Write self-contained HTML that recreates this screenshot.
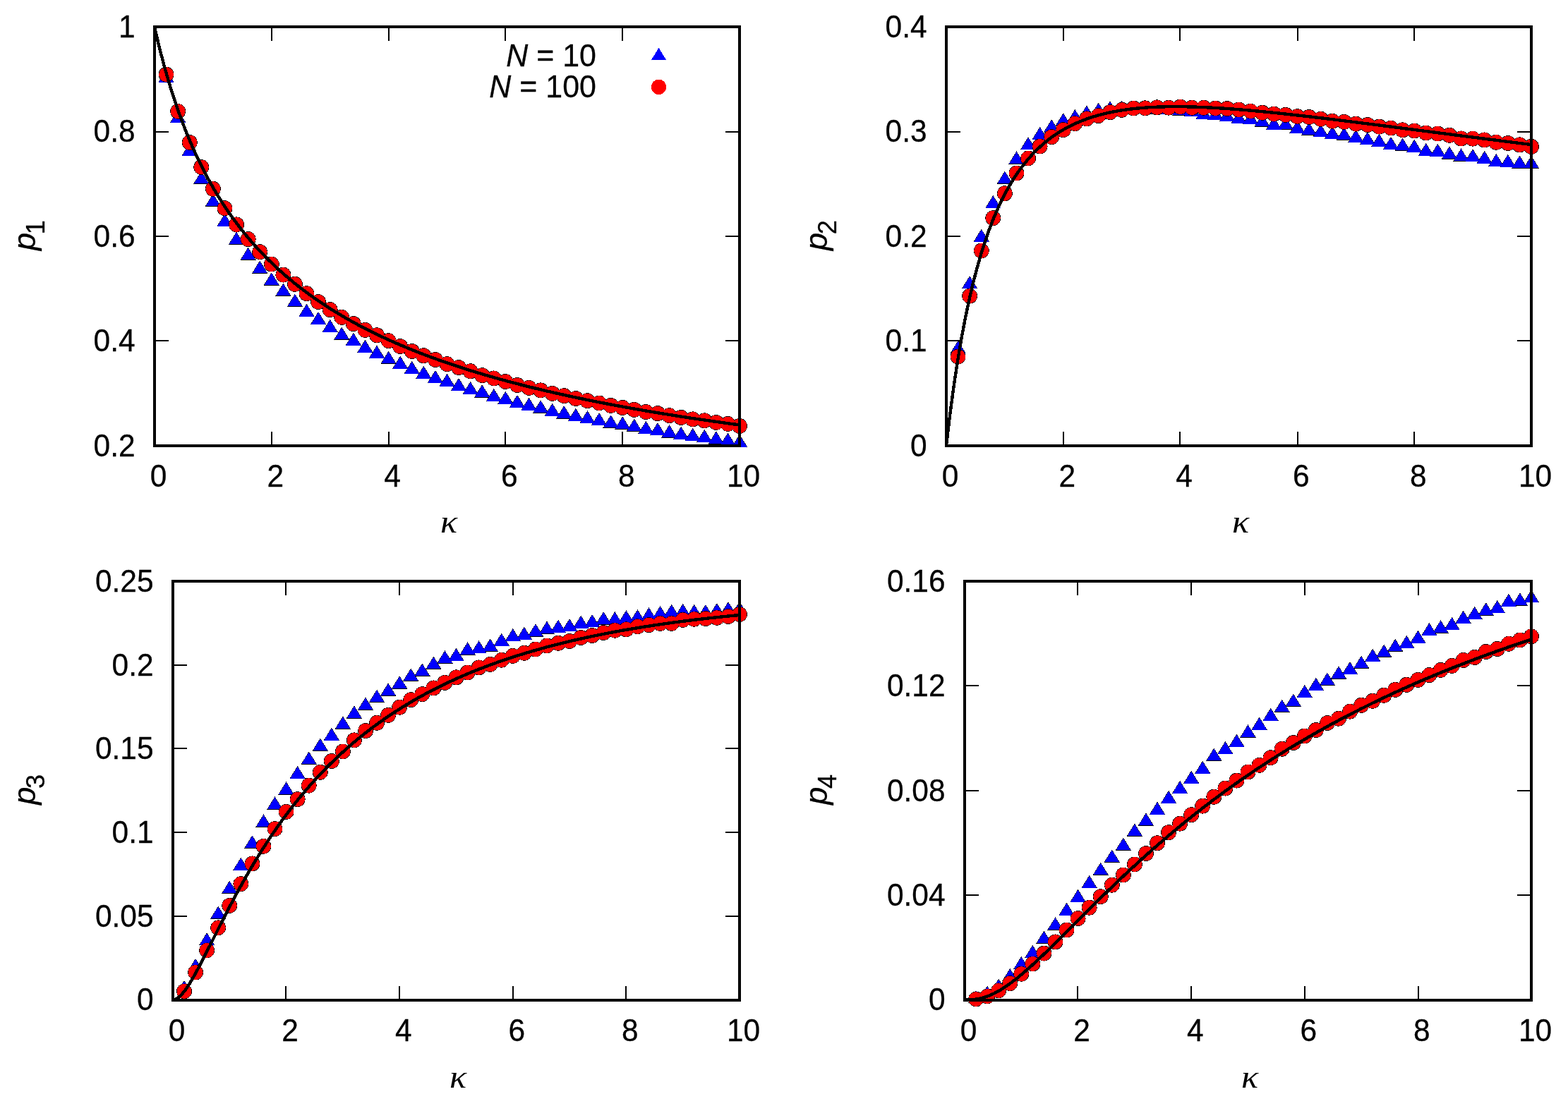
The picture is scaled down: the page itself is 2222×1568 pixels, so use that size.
<!DOCTYPE html>
<html lang="en"><head><meta charset="utf-8"><title>p_n versus kappa</title>
<style>
html,body{margin:0;padding:0;background:#fff;}
body{width:2222px;height:1568px;overflow:hidden;}
svg{display:block;}
text{font-family:"Liberation Sans",sans-serif;font-size:45.2px;fill:#000;stroke:#000;stroke-width:.3px;}
.it{font-style:italic;}
.sub{font-size:36.16px;}
.k{font-family:"Liberation Serif","DejaVu Serif",serif;font-style:italic;font-size:46.5px;stroke:none;}
.tri{fill:#0000ff;}.cir{fill:#ff0000;}
.ol{fill:none;stroke:#000;stroke-width:1;stroke-linejoin:miter;}
.fr{fill:none;stroke:#000;stroke-width:4.0;stroke-linejoin:miter;}
.tk{fill:#000;stroke:none;}
.ln{fill:none;stroke:#000;stroke-width:4.4;stroke-linejoin:round;stroke-linecap:butt;}
</style></head><body>
<svg width="2222" height="1568" viewBox="0 0 2222 1568">
<rect width="2222" height="1568" fill="#fff"/>
<g class="panel" id="panel1">
<g shape-rendering="crispEdges">
<path class="ol" d="M225.15 116.64L235.58 99.74L246.01 116.64ZM241.73 173.5L252.16 156.6L262.59 173.5ZM258.31 220.6L268.74 203.7L279.17 220.6ZM274.89 260.46L285.32 243.56L295.75 260.46ZM291.47 292.43L301.9 275.53L312.33 292.43ZM308.05 320.77L318.48 303.87L328.91 320.77ZM324.63 346.46L335.06 329.56L345.49 346.46ZM341.21 368.47L351.64 351.57L362.07 368.47ZM357.79 387.34L368.22 370.44L378.65 387.34ZM374.37 404.25L384.8 387.35L395.23 404.25ZM390.95 419.43L401.38 402.53L411.81 419.43ZM407.53 434.49L417.96 417.59L428.39 434.49ZM424.11 448.57L434.54 431.68L444.97 448.57ZM440.69 459.75L451.12 442.85L461.55 459.75ZM457.27 470.77L467.7 453.87L478.13 470.77ZM473.85 481.48L484.28 464.58L494.71 481.48ZM490.43 489.59L500.86 472.7L511.29 489.59ZM507.01 499.54L517.44 482.64L527.87 499.54ZM523.59 507.5L534.02 490.6L544.45 507.5ZM540.17 515.46L550.6 498.56L561.03 515.46ZM556.75 522.5L567.18 505.6L577.61 522.5ZM573.33 529.7L583.76 512.8L594.19 529.7ZM589.91 536.58L600.34 519.69L610.77 536.58ZM606.49 542.71L616.92 525.81L627.35 542.71ZM623.07 547.61L633.5 530.71L643.93 547.61ZM639.65 553.73L650.08 536.83L660.51 553.73ZM656.23 558.78L666.66 541.88L677.09 558.78ZM672.81 563.06L683.24 546.17L693.67 563.06ZM689.39 568.73L699.82 551.83L710.25 568.73ZM705.97 572.55L716.4 555.66L726.83 572.55ZM722.55 577.61L732.98 560.71L743.41 577.61ZM739.13 581.54L749.56 564.64L759.99 581.54ZM755.71 585.16L766.14 568.26L776.57 585.16ZM772.29 589.76L782.72 572.86L793.15 589.76ZM788.87 593.05L799.3 576.16L809.73 593.05ZM805.45 596.67L815.88 579.77L826.31 596.67ZM822.03 599.96L832.46 583.07L842.89 599.96ZM838.61 602.93L849.04 586.03L859.47 602.93ZM855.19 606.22L865.62 589.32L876.05 606.22ZM871.77 608.19L882.2 591.29L892.63 608.19ZM888.35 611.48L898.78 594.58L909.21 611.48ZM904.93 614.77L915.36 597.87L925.79 614.77ZM921.51 616.91L931.94 600.01L942.37 616.91ZM938.09 620.04L948.52 603.14L958.95 620.04ZM954.67 622.67L965.1 605.77L975.53 622.67ZM971.25 624.65L981.68 607.75L992.11 624.65ZM987.83 626.62L998.26 609.72L1008.69 626.62ZM1004.41 629.2L1014.84 612.3L1025.27 629.2ZM1020.99 631.41L1031.42 614.51L1041.85 631.41ZM1037.57 633.56L1048 616.66L1058.43 633.56Z"/>
<path class="tri" d="M225.15 116.64L235.58 99.74L246.01 116.64ZM241.73 173.5L252.16 156.6L262.59 173.5ZM258.31 220.6L268.74 203.7L279.17 220.6ZM274.89 260.46L285.32 243.56L295.75 260.46ZM291.47 292.43L301.9 275.53L312.33 292.43ZM308.05 320.77L318.48 303.87L328.91 320.77ZM324.63 346.46L335.06 329.56L345.49 346.46ZM341.21 368.47L351.64 351.57L362.07 368.47ZM357.79 387.34L368.22 370.44L378.65 387.34ZM374.37 404.25L384.8 387.35L395.23 404.25ZM390.95 419.43L401.38 402.53L411.81 419.43ZM407.53 434.49L417.96 417.59L428.39 434.49ZM424.11 448.57L434.54 431.68L444.97 448.57ZM440.69 459.75L451.12 442.85L461.55 459.75ZM457.27 470.77L467.7 453.87L478.13 470.77ZM473.85 481.48L484.28 464.58L494.71 481.48ZM490.43 489.59L500.86 472.7L511.29 489.59ZM507.01 499.54L517.44 482.64L527.87 499.54ZM523.59 507.5L534.02 490.6L544.45 507.5ZM540.17 515.46L550.6 498.56L561.03 515.46ZM556.75 522.5L567.18 505.6L577.61 522.5ZM573.33 529.7L583.76 512.8L594.19 529.7ZM589.91 536.58L600.34 519.69L610.77 536.58ZM606.49 542.71L616.92 525.81L627.35 542.71ZM623.07 547.61L633.5 530.71L643.93 547.61ZM639.65 553.73L650.08 536.83L660.51 553.73ZM656.23 558.78L666.66 541.88L677.09 558.78ZM672.81 563.06L683.24 546.17L693.67 563.06ZM689.39 568.73L699.82 551.83L710.25 568.73ZM705.97 572.55L716.4 555.66L726.83 572.55ZM722.55 577.61L732.98 560.71L743.41 577.61ZM739.13 581.54L749.56 564.64L759.99 581.54ZM755.71 585.16L766.14 568.26L776.57 585.16ZM772.29 589.76L782.72 572.86L793.15 589.76ZM788.87 593.05L799.3 576.16L809.73 593.05ZM805.45 596.67L815.88 579.77L826.31 596.67ZM822.03 599.96L832.46 583.07L842.89 599.96ZM838.61 602.93L849.04 586.03L859.47 602.93ZM855.19 606.22L865.62 589.32L876.05 606.22ZM871.77 608.19L882.2 591.29L892.63 608.19ZM888.35 611.48L898.78 594.58L909.21 611.48ZM904.93 614.77L915.36 597.87L925.79 614.77ZM921.51 616.91L931.94 600.01L942.37 616.91ZM938.09 620.04L948.52 603.14L958.95 620.04ZM954.67 622.67L965.1 605.77L975.53 622.67ZM971.25 624.65L981.68 607.75L992.11 624.65ZM987.83 626.62L998.26 609.72L1008.69 626.62ZM1004.41 629.2L1014.84 612.3L1025.27 629.2ZM1020.99 631.41L1031.42 614.51L1041.85 631.41ZM1037.57 633.56L1048 616.66L1058.43 633.56Z"/>
<path class="ol" d="M225.13 105.59a10.45 10.45 0 1 0 20.9 0a10.45 10.45 0 1 0 -20.9 0ZM241.71 157.89a10.45 10.45 0 1 0 20.9 0a10.45 10.45 0 1 0 -20.9 0ZM258.29 201.99a10.45 10.45 0 1 0 20.9 0a10.45 10.45 0 1 0 -20.9 0ZM274.87 236.97a10.45 10.45 0 1 0 20.9 0a10.45 10.45 0 1 0 -20.9 0ZM291.45 267.84a10.45 10.45 0 1 0 20.9 0a10.45 10.45 0 1 0 -20.9 0ZM308.03 295.25a10.45 10.45 0 1 0 20.9 0a10.45 10.45 0 1 0 -20.9 0ZM324.61 318.39a10.45 10.45 0 1 0 20.9 0a10.45 10.45 0 1 0 -20.9 0ZM341.19 339.05a10.45 10.45 0 1 0 20.9 0a10.45 10.45 0 1 0 -20.9 0ZM357.77 357.21a10.45 10.45 0 1 0 20.9 0a10.45 10.45 0 1 0 -20.9 0ZM374.35 374.55a10.45 10.45 0 1 0 20.9 0a10.45 10.45 0 1 0 -20.9 0ZM390.93 389.62a10.45 10.45 0 1 0 20.9 0a10.45 10.45 0 1 0 -20.9 0ZM407.51 402.85a10.45 10.45 0 1 0 20.9 0a10.45 10.45 0 1 0 -20.9 0ZM424.09 416.18a10.45 10.45 0 1 0 20.9 0a10.45 10.45 0 1 0 -20.9 0ZM440.67 428.05a10.45 10.45 0 1 0 20.9 0a10.45 10.45 0 1 0 -20.9 0ZM457.25 439.07a10.45 10.45 0 1 0 20.9 0a10.45 10.45 0 1 0 -20.9 0ZM473.83 449.78a10.45 10.45 0 1 0 20.9 0a10.45 10.45 0 1 0 -20.9 0ZM490.41 459.12a10.45 10.45 0 1 0 20.9 0a10.45 10.45 0 1 0 -20.9 0ZM506.99 467.84a10.45 10.45 0 1 0 20.9 0a10.45 10.45 0 1 0 -20.9 0ZM523.57 475.19a10.45 10.45 0 1 0 20.9 0a10.45 10.45 0 1 0 -20.9 0ZM540.15 483.15a10.45 10.45 0 1 0 20.9 0a10.45 10.45 0 1 0 -20.9 0ZM556.73 491.11a10.45 10.45 0 1 0 20.9 0a10.45 10.45 0 1 0 -20.9 0ZM573.31 498a10.45 10.45 0 1 0 20.9 0a10.45 10.45 0 1 0 -20.9 0ZM589.89 504.27a10.45 10.45 0 1 0 20.9 0a10.45 10.45 0 1 0 -20.9 0ZM606.47 509.93a10.45 10.45 0 1 0 20.9 0a10.45 10.45 0 1 0 -20.9 0ZM623.05 516.06a10.45 10.45 0 1 0 20.9 0a10.45 10.45 0 1 0 -20.9 0ZM639.63 521.11a10.45 10.45 0 1 0 20.9 0a10.45 10.45 0 1 0 -20.9 0ZM656.21 526.31a10.45 10.45 0 1 0 20.9 0a10.45 10.45 0 1 0 -20.9 0ZM672.79 532.13a10.45 10.45 0 1 0 20.9 0a10.45 10.45 0 1 0 -20.9 0ZM689.37 536.41a10.45 10.45 0 1 0 20.9 0a10.45 10.45 0 1 0 -20.9 0ZM705.95 541.01a10.45 10.45 0 1 0 20.9 0a10.45 10.45 0 1 0 -20.9 0ZM722.53 545.9a10.45 10.45 0 1 0 20.9 0a10.45 10.45 0 1 0 -20.9 0ZM739.11 549.82a10.45 10.45 0 1 0 20.9 0a10.45 10.45 0 1 0 -20.9 0ZM755.69 553.39a10.45 10.45 0 1 0 20.9 0a10.45 10.45 0 1 0 -20.9 0ZM772.27 557.83a10.45 10.45 0 1 0 20.9 0a10.45 10.45 0 1 0 -20.9 0ZM788.85 561.12a10.45 10.45 0 1 0 20.9 0a10.45 10.45 0 1 0 -20.9 0ZM805.43 565.07a10.45 10.45 0 1 0 20.9 0a10.45 10.45 0 1 0 -20.9 0ZM822.01 568.2a10.45 10.45 0 1 0 20.9 0a10.45 10.45 0 1 0 -20.9 0ZM838.59 571.49a10.45 10.45 0 1 0 20.9 0a10.45 10.45 0 1 0 -20.9 0ZM855.17 574.94a10.45 10.45 0 1 0 20.9 0a10.45 10.45 0 1 0 -20.9 0ZM871.75 577.91a10.45 10.45 0 1 0 20.9 0a10.45 10.45 0 1 0 -20.9 0ZM888.33 580.87a10.45 10.45 0 1 0 20.9 0a10.45 10.45 0 1 0 -20.9 0ZM904.91 583.99a10.45 10.45 0 1 0 20.9 0a10.45 10.45 0 1 0 -20.9 0ZM921.49 586.13a10.45 10.45 0 1 0 20.9 0a10.45 10.45 0 1 0 -20.9 0ZM938.07 589.1a10.45 10.45 0 1 0 20.9 0a10.45 10.45 0 1 0 -20.9 0ZM954.65 591.89a10.45 10.45 0 1 0 20.9 0a10.45 10.45 0 1 0 -20.9 0ZM971.23 594.36a10.45 10.45 0 1 0 20.9 0a10.45 10.45 0 1 0 -20.9 0ZM987.81 596.34a10.45 10.45 0 1 0 20.9 0a10.45 10.45 0 1 0 -20.9 0ZM1004.39 598.97a10.45 10.45 0 1 0 20.9 0a10.45 10.45 0 1 0 -20.9 0ZM1020.97 600.94a10.45 10.45 0 1 0 20.9 0a10.45 10.45 0 1 0 -20.9 0ZM1037.55 603.91a10.45 10.45 0 1 0 20.9 0a10.45 10.45 0 1 0 -20.9 0Z"/>
<path class="cir" d="M225.13 105.59a10.45 10.45 0 1 0 20.9 0a10.45 10.45 0 1 0 -20.9 0ZM241.71 157.89a10.45 10.45 0 1 0 20.9 0a10.45 10.45 0 1 0 -20.9 0ZM258.29 201.99a10.45 10.45 0 1 0 20.9 0a10.45 10.45 0 1 0 -20.9 0ZM274.87 236.97a10.45 10.45 0 1 0 20.9 0a10.45 10.45 0 1 0 -20.9 0ZM291.45 267.84a10.45 10.45 0 1 0 20.9 0a10.45 10.45 0 1 0 -20.9 0ZM308.03 295.25a10.45 10.45 0 1 0 20.9 0a10.45 10.45 0 1 0 -20.9 0ZM324.61 318.39a10.45 10.45 0 1 0 20.9 0a10.45 10.45 0 1 0 -20.9 0ZM341.19 339.05a10.45 10.45 0 1 0 20.9 0a10.45 10.45 0 1 0 -20.9 0ZM357.77 357.21a10.45 10.45 0 1 0 20.9 0a10.45 10.45 0 1 0 -20.9 0ZM374.35 374.55a10.45 10.45 0 1 0 20.9 0a10.45 10.45 0 1 0 -20.9 0ZM390.93 389.62a10.45 10.45 0 1 0 20.9 0a10.45 10.45 0 1 0 -20.9 0ZM407.51 402.85a10.45 10.45 0 1 0 20.9 0a10.45 10.45 0 1 0 -20.9 0ZM424.09 416.18a10.45 10.45 0 1 0 20.9 0a10.45 10.45 0 1 0 -20.9 0ZM440.67 428.05a10.45 10.45 0 1 0 20.9 0a10.45 10.45 0 1 0 -20.9 0ZM457.25 439.07a10.45 10.45 0 1 0 20.9 0a10.45 10.45 0 1 0 -20.9 0ZM473.83 449.78a10.45 10.45 0 1 0 20.9 0a10.45 10.45 0 1 0 -20.9 0ZM490.41 459.12a10.45 10.45 0 1 0 20.9 0a10.45 10.45 0 1 0 -20.9 0ZM506.99 467.84a10.45 10.45 0 1 0 20.9 0a10.45 10.45 0 1 0 -20.9 0ZM523.57 475.19a10.45 10.45 0 1 0 20.9 0a10.45 10.45 0 1 0 -20.9 0ZM540.15 483.15a10.45 10.45 0 1 0 20.9 0a10.45 10.45 0 1 0 -20.9 0ZM556.73 491.11a10.45 10.45 0 1 0 20.9 0a10.45 10.45 0 1 0 -20.9 0ZM573.31 498a10.45 10.45 0 1 0 20.9 0a10.45 10.45 0 1 0 -20.9 0ZM589.89 504.27a10.45 10.45 0 1 0 20.9 0a10.45 10.45 0 1 0 -20.9 0ZM606.47 509.93a10.45 10.45 0 1 0 20.9 0a10.45 10.45 0 1 0 -20.9 0ZM623.05 516.06a10.45 10.45 0 1 0 20.9 0a10.45 10.45 0 1 0 -20.9 0ZM639.63 521.11a10.45 10.45 0 1 0 20.9 0a10.45 10.45 0 1 0 -20.9 0ZM656.21 526.31a10.45 10.45 0 1 0 20.9 0a10.45 10.45 0 1 0 -20.9 0ZM672.79 532.13a10.45 10.45 0 1 0 20.9 0a10.45 10.45 0 1 0 -20.9 0ZM689.37 536.41a10.45 10.45 0 1 0 20.9 0a10.45 10.45 0 1 0 -20.9 0ZM705.95 541.01a10.45 10.45 0 1 0 20.9 0a10.45 10.45 0 1 0 -20.9 0ZM722.53 545.9a10.45 10.45 0 1 0 20.9 0a10.45 10.45 0 1 0 -20.9 0ZM739.11 549.82a10.45 10.45 0 1 0 20.9 0a10.45 10.45 0 1 0 -20.9 0ZM755.69 553.39a10.45 10.45 0 1 0 20.9 0a10.45 10.45 0 1 0 -20.9 0ZM772.27 557.83a10.45 10.45 0 1 0 20.9 0a10.45 10.45 0 1 0 -20.9 0ZM788.85 561.12a10.45 10.45 0 1 0 20.9 0a10.45 10.45 0 1 0 -20.9 0ZM805.43 565.07a10.45 10.45 0 1 0 20.9 0a10.45 10.45 0 1 0 -20.9 0ZM822.01 568.2a10.45 10.45 0 1 0 20.9 0a10.45 10.45 0 1 0 -20.9 0ZM838.59 571.49a10.45 10.45 0 1 0 20.9 0a10.45 10.45 0 1 0 -20.9 0ZM855.17 574.94a10.45 10.45 0 1 0 20.9 0a10.45 10.45 0 1 0 -20.9 0ZM871.75 577.91a10.45 10.45 0 1 0 20.9 0a10.45 10.45 0 1 0 -20.9 0ZM888.33 580.87a10.45 10.45 0 1 0 20.9 0a10.45 10.45 0 1 0 -20.9 0ZM904.91 583.99a10.45 10.45 0 1 0 20.9 0a10.45 10.45 0 1 0 -20.9 0ZM921.49 586.13a10.45 10.45 0 1 0 20.9 0a10.45 10.45 0 1 0 -20.9 0ZM938.07 589.1a10.45 10.45 0 1 0 20.9 0a10.45 10.45 0 1 0 -20.9 0ZM954.65 591.89a10.45 10.45 0 1 0 20.9 0a10.45 10.45 0 1 0 -20.9 0ZM971.23 594.36a10.45 10.45 0 1 0 20.9 0a10.45 10.45 0 1 0 -20.9 0ZM987.81 596.34a10.45 10.45 0 1 0 20.9 0a10.45 10.45 0 1 0 -20.9 0ZM1004.39 598.97a10.45 10.45 0 1 0 20.9 0a10.45 10.45 0 1 0 -20.9 0ZM1020.97 600.94a10.45 10.45 0 1 0 20.9 0a10.45 10.45 0 1 0 -20.9 0ZM1037.55 603.91a10.45 10.45 0 1 0 20.9 0a10.45 10.45 0 1 0 -20.9 0Z"/>
<path class="ln" d="M219 38L221.07 47.13L223.15 55.97L225.22 64.53L227.29 72.82L229.36 80.87L231.44 88.68L233.51 96.26L235.58 103.63L237.65 110.8L239.72 117.76L241.8 124.55L243.87 131.15L245.94 137.58L248.01 143.85L250.09 149.96L252.16 155.92L254.23 161.74L256.31 167.42L258.38 172.97L260.45 178.38L262.52 183.68L264.6 188.86L266.67 193.92L268.74 198.87L270.81 203.72L272.88 208.46L274.96 213.11L277.03 217.66L279.1 222.11L281.18 226.48L283.25 230.76L285.32 234.96L287.39 239.08L289.47 243.12L291.54 247.08L293.61 250.97L295.68 254.79L297.75 258.54L299.83 262.22L301.9 265.84L303.97 269.39L306.05 272.88L308.12 276.32L310.19 279.69L312.26 283.01L314.33 286.27L316.41 289.48L318.48 292.64L320.55 295.75L322.62 298.81L324.7 301.82L326.77 304.78L328.84 307.7L330.92 310.57L332.99 313.4L335.06 316.19L337.13 318.94L339.2 321.64L341.28 324.31L343.35 326.94L345.42 329.53L347.5 332.08L349.57 334.6L351.64 337.08L353.71 339.53L355.78 341.95L357.86 344.33L359.93 346.68L362 349L364.07 351.29L366.15 353.55L368.22 355.78L370.29 357.98L372.37 360.16L374.44 362.3L376.51 364.42L378.58 366.51L380.65 368.58L382.73 370.62L384.8 372.64L386.87 374.63L388.94 376.6L391.02 378.55L393.09 380.47L395.16 382.37L397.24 384.25L399.31 386.1L401.38 387.94L403.45 389.75L405.52 391.54L407.6 393.32L409.67 395.07L411.74 396.8L413.81 398.52L415.89 400.22L417.96 401.89L420.03 403.55L422.11 405.2L424.18 406.82L426.25 408.43L428.32 410.02L430.39 411.59L432.47 413.15L434.54 414.69L436.61 416.22L438.69 417.73L440.76 419.23L442.83 420.71L444.9 422.17L446.98 423.63L449.05 425.06L451.12 426.49L453.19 427.9L455.26 429.29L457.34 430.67L459.41 432.04L461.48 433.4L463.56 434.74L465.63 436.07L467.7 437.39L469.77 438.7L471.84 439.99L473.92 441.28L475.99 442.55L478.06 443.81L480.13 445.05L482.21 446.29L484.28 447.52L486.35 448.73L488.43 449.93L490.5 451.13L492.57 452.31L494.64 453.48L496.72 454.65L498.79 455.8L500.86 456.94L502.93 458.08L505 459.2L507.08 460.32L509.15 461.42L511.22 462.52L513.29 463.6L515.37 464.68L517.44 465.75L519.51 466.81L521.59 467.86L523.66 468.91L525.73 469.94L527.8 470.97L529.88 471.99L531.95 473L534.02 474L536.09 475L538.16 475.98L540.24 476.96L542.31 477.93L544.38 478.9L546.46 479.86L548.53 480.81L550.6 481.75L552.67 482.68L554.75 483.61L556.82 484.53L558.89 485.45L560.96 486.36L563.04 487.26L565.11 488.15L567.18 489.04L569.25 489.92L571.33 490.8L573.4 491.67L575.47 492.53L577.54 493.39L579.62 494.24L581.69 495.08L583.76 495.92L585.83 496.75L587.9 497.58L589.98 498.4L592.05 499.22L594.12 500.03L596.19 500.83L598.27 501.63L600.34 502.42L602.41 503.21L604.49 503.99L606.56 504.77L608.63 505.54L610.7 506.31L612.77 507.07L614.85 507.83L616.92 508.58L618.99 509.33L621.06 510.07L623.14 510.81L625.21 511.54L627.28 512.27L629.36 512.99L631.43 513.71L633.5 514.42L635.57 515.13L637.64 515.84L639.72 516.54L641.79 517.23L643.86 517.93L645.94 518.61L648.01 519.3L650.08 519.98L652.15 520.65L654.23 521.32L656.3 521.99L658.37 522.65L660.44 523.31L662.51 523.96L664.59 524.61L666.66 525.26L668.73 525.9L670.81 526.54L672.88 527.18L674.95 527.81L677.02 528.43L679.1 529.06L681.17 529.68L683.24 530.29L685.31 530.91L687.38 531.52L689.46 532.12L691.53 532.73L693.6 533.32L695.67 533.92L697.75 534.51L699.82 535.1L701.89 535.69L703.96 536.27L706.04 536.85L708.11 537.42L710.18 538L712.25 538.56L714.33 539.13L716.4 539.69L718.47 540.25L720.54 540.81L722.62 541.36L724.69 541.91L726.76 542.46L728.84 543.01L730.91 543.55L732.98 544.09L735.05 544.62L737.12 545.16L739.2 545.69L741.27 546.21L743.34 546.74L745.41 547.26L747.49 547.78L749.56 548.3L751.63 548.81L753.71 549.32L755.78 549.83L757.85 550.34L759.92 550.84L762 551.34L764.07 551.84L766.14 552.33L768.21 552.83L770.29 553.32L772.36 553.8L774.43 554.29L776.5 554.77L778.58 555.25L780.65 555.73L782.72 556.21L784.79 556.68L786.87 557.15L788.94 557.62L791.01 558.09L793.08 558.55L795.15 559.01L797.23 559.47L799.3 559.93L801.37 560.39L803.44 560.84L805.52 561.29L807.59 561.74L809.66 562.18L811.74 562.63L813.81 563.07L815.88 563.51L817.95 563.95L820.02 564.39L822.1 564.82L824.17 565.25L826.24 565.68L828.31 566.11L830.39 566.53L832.46 566.96L834.53 567.38L836.61 567.8L838.68 568.22L840.75 568.63L842.82 569.05L844.89 569.46L846.97 569.87L849.04 570.28L851.11 570.69L853.19 571.09L855.26 571.49L857.33 571.89L859.4 572.29L861.48 572.69L863.55 573.09L865.62 573.48L867.69 573.87L869.76 574.26L871.84 574.65L873.91 575.04L875.98 575.42L878.06 575.81L880.13 576.19L882.2 576.57L884.27 576.95L886.35 577.33L888.42 577.7L890.49 578.07L892.56 578.45L894.63 578.82L896.71 579.19L898.78 579.55L900.85 579.92L902.92 580.28L905 580.65L907.07 581.01L909.14 581.37L911.21 581.73L913.29 582.08L915.36 582.44L917.43 582.79L919.5 583.14L921.58 583.49L923.65 583.84L925.72 584.19L927.8 584.54L929.87 584.88L931.94 585.23L934.01 585.57L936.09 585.91L938.16 586.25L940.23 586.59L942.3 586.92L944.38 587.26L946.45 587.59L948.52 587.92L950.59 588.26L952.66 588.59L954.74 588.91L956.81 589.24L958.88 589.57L960.95 589.89L963.03 590.21L965.1 590.54L967.17 590.86L969.25 591.18L971.32 591.5L973.39 591.81L975.46 592.13L977.54 592.44L979.61 592.76L981.68 593.07L983.75 593.38L985.83 593.69L987.9 594L989.97 594.3L992.04 594.61L994.12 594.92L996.19 595.22L998.26 595.52L1000.33 595.82L1002.4 596.12L1004.48 596.42L1006.55 596.72L1008.62 597.02L1010.7 597.31L1012.77 597.61L1014.84 597.9L1016.91 598.2L1018.99 598.49L1021.06 598.78L1023.13 599.07L1025.2 599.35L1027.28 599.64L1029.35 599.93L1031.42 600.21L1033.49 600.5L1035.57 600.78L1037.64 601.06L1039.71 601.34L1041.78 601.62L1043.86 601.9L1045.93 602.18L1048 602.46"/>
<path class="tk" d="M384 612h2v20h-2zM384 38h2v20h-2zM550 612h2v20h-2zM550 38h2v20h-2zM715 612h2v20h-2zM715 38h2v20h-2zM881 612h2v20h-2zM881 38h2v20h-2zM219 482h20v2h-20zM1028 482h20v2h-20zM219 334h20v2h-20zM1028 334h20v2h-20zM219 186h20v2h-20zM1028 186h20v2h-20z"/>
<rect class="fr" x="219" y="38" width="829" height="594"/>
</g>
<text transform="translate(224.5 690) scale(0.94 1)" text-anchor="middle">0</text>
<text transform="translate(390.3 690) scale(0.94 1)" text-anchor="middle">2</text>
<text transform="translate(556.1 690) scale(0.94 1)" text-anchor="middle">4</text>
<text transform="translate(721.9 690) scale(0.94 1)" text-anchor="middle">6</text>
<text transform="translate(887.7 690) scale(0.94 1)" text-anchor="middle">8</text>
<text transform="translate(1053.5 690) scale(0.94 1)" text-anchor="middle">10</text>
<text transform="translate(191.6 647) scale(0.94 1)" text-anchor="end">0.2</text>
<text transform="translate(191.6 498) scale(0.94 1)" text-anchor="end">0.4</text>
<text transform="translate(191.6 350) scale(0.94 1)" text-anchor="end">0.6</text>
<text transform="translate(191.6 201) scale(0.94 1)" text-anchor="end">0.8</text>
<text transform="translate(191.6 53) scale(0.94 1)" text-anchor="end">1</text>
<text class="k" transform="translate(636.1 755) scale(1.08 1)" text-anchor="middle">κ</text>
<text transform="translate(49.5 333.5) rotate(-90) scale(1 1)" text-anchor="middle"><tspan class="it">p</tspan><tspan class="sub" dx="-2.5" dy="13.56">1</tspan></text>
</g>
<g class="panel" id="panel2">
<g shape-rendering="crispEdges">
<path class="ol" d="M1347.15 500.81L1357.58 483.91L1368.01 500.81ZM1363.73 408.95L1374.16 392.05L1384.59 408.95ZM1380.31 342.52L1390.74 325.62L1401.17 342.52ZM1396.89 294.89L1407.32 277.99L1417.75 294.89ZM1413.47 260.38L1423.9 243.48L1434.33 260.38ZM1430.05 232.24L1440.48 215.34L1450.91 232.24ZM1446.63 211.99L1457.06 195.09L1467.49 211.99ZM1463.21 197.73L1473.64 180.83L1484.07 197.73ZM1479.79 187.2L1490.22 170.3L1500.65 187.2ZM1496.37 178.12L1506.8 161.23L1517.23 178.12ZM1512.95 172.94L1523.38 156.04L1533.81 172.94ZM1529.53 167.27L1539.96 150.37L1550.39 167.27ZM1546.11 163.54L1556.54 146.64L1566.97 163.54ZM1562.69 161.11L1573.12 144.21L1583.55 161.11ZM1579.27 160.21L1589.7 143.31L1600.13 160.21ZM1595.85 160.46L1606.28 143.57L1616.71 160.46ZM1612.43 160.46L1622.86 143.57L1633.29 160.46ZM1629.01 161.11L1639.44 144.21L1649.87 161.11ZM1645.59 161.92L1656.02 145.02L1666.45 161.92ZM1662.17 163.06L1672.6 146.16L1683.03 163.06ZM1678.75 164.52L1689.18 147.62L1699.61 164.52ZM1695.33 168.57L1705.76 151.67L1716.19 168.57ZM1711.91 169.7L1722.34 152.8L1732.77 169.7ZM1728.49 171.81L1738.92 154.91L1749.35 171.81ZM1745.07 174.94L1755.5 158.04L1765.93 174.94ZM1761.65 175.8L1772.08 158.9L1782.51 175.8ZM1778.23 179.47L1788.66 162.57L1799.09 179.47ZM1794.81 183.58L1805.24 166.68L1815.67 183.58ZM1811.39 183.36L1821.82 166.46L1832.25 183.36ZM1827.97 188.65L1838.4 171.75L1848.83 188.65ZM1844.55 191.46L1854.98 174.56L1865.41 191.46ZM1861.13 193.84L1871.56 176.94L1881.99 193.84ZM1877.71 196.75L1888.14 179.85L1898.57 196.75ZM1894.29 198.48L1904.72 181.58L1915.15 198.48ZM1910.87 201.61L1921.3 184.72L1931.73 201.61ZM1927.45 204.85L1937.88 187.96L1948.31 204.85ZM1944.03 207.55L1954.46 190.66L1964.89 207.55ZM1960.61 211.66L1971.04 194.76L1981.47 211.66ZM1977.19 213.47L1987.62 196.57L1998.05 213.47ZM1993.77 215.52L2004.2 198.62L2014.63 215.52ZM2010.35 220.81L2020.78 203.91L2031.21 220.81ZM2026.93 221.57L2037.36 204.67L2047.79 221.57ZM2043.51 225.24L2053.94 208.34L2064.37 225.24ZM2060.09 228.27L2070.52 211.37L2080.95 228.27ZM2076.67 228.91L2087.1 212.01L2097.53 228.91ZM2093.25 231.72L2103.68 214.82L2114.11 231.72ZM2109.83 235.72L2120.26 218.82L2130.69 235.72ZM2126.41 236.69L2136.84 219.79L2147.27 236.69ZM2142.99 238.31L2153.42 221.41L2163.85 238.31ZM2159.57 238.42L2170 221.52L2180.43 238.42Z"/>
<path class="tri" d="M1347.15 500.81L1357.58 483.91L1368.01 500.81ZM1363.73 408.95L1374.16 392.05L1384.59 408.95ZM1380.31 342.52L1390.74 325.62L1401.17 342.52ZM1396.89 294.89L1407.32 277.99L1417.75 294.89ZM1413.47 260.38L1423.9 243.48L1434.33 260.38ZM1430.05 232.24L1440.48 215.34L1450.91 232.24ZM1446.63 211.99L1457.06 195.09L1467.49 211.99ZM1463.21 197.73L1473.64 180.83L1484.07 197.73ZM1479.79 187.2L1490.22 170.3L1500.65 187.2ZM1496.37 178.12L1506.8 161.23L1517.23 178.12ZM1512.95 172.94L1523.38 156.04L1533.81 172.94ZM1529.53 167.27L1539.96 150.37L1550.39 167.27ZM1546.11 163.54L1556.54 146.64L1566.97 163.54ZM1562.69 161.11L1573.12 144.21L1583.55 161.11ZM1579.27 160.21L1589.7 143.31L1600.13 160.21ZM1595.85 160.46L1606.28 143.57L1616.71 160.46ZM1612.43 160.46L1622.86 143.57L1633.29 160.46ZM1629.01 161.11L1639.44 144.21L1649.87 161.11ZM1645.59 161.92L1656.02 145.02L1666.45 161.92ZM1662.17 163.06L1672.6 146.16L1683.03 163.06ZM1678.75 164.52L1689.18 147.62L1699.61 164.52ZM1695.33 168.57L1705.76 151.67L1716.19 168.57ZM1711.91 169.7L1722.34 152.8L1732.77 169.7ZM1728.49 171.81L1738.92 154.91L1749.35 171.81ZM1745.07 174.94L1755.5 158.04L1765.93 174.94ZM1761.65 175.8L1772.08 158.9L1782.51 175.8ZM1778.23 179.47L1788.66 162.57L1799.09 179.47ZM1794.81 183.58L1805.24 166.68L1815.67 183.58ZM1811.39 183.36L1821.82 166.46L1832.25 183.36ZM1827.97 188.65L1838.4 171.75L1848.83 188.65ZM1844.55 191.46L1854.98 174.56L1865.41 191.46ZM1861.13 193.84L1871.56 176.94L1881.99 193.84ZM1877.71 196.75L1888.14 179.85L1898.57 196.75ZM1894.29 198.48L1904.72 181.58L1915.15 198.48ZM1910.87 201.61L1921.3 184.72L1931.73 201.61ZM1927.45 204.85L1937.88 187.96L1948.31 204.85ZM1944.03 207.55L1954.46 190.66L1964.89 207.55ZM1960.61 211.66L1971.04 194.76L1981.47 211.66ZM1977.19 213.47L1987.62 196.57L1998.05 213.47ZM1993.77 215.52L2004.2 198.62L2014.63 215.52ZM2010.35 220.81L2020.78 203.91L2031.21 220.81ZM2026.93 221.57L2037.36 204.67L2047.79 221.57ZM2043.51 225.24L2053.94 208.34L2064.37 225.24ZM2060.09 228.27L2070.52 211.37L2080.95 228.27ZM2076.67 228.91L2087.1 212.01L2097.53 228.91ZM2093.25 231.72L2103.68 214.82L2114.11 231.72ZM2109.83 235.72L2120.26 218.82L2130.69 235.72ZM2126.41 236.69L2136.84 219.79L2147.27 236.69ZM2142.99 238.31L2153.42 221.41L2163.85 238.31ZM2159.57 238.42L2170 221.52L2180.43 238.42Z"/>
<path class="ol" d="M1347.13 505.66a10.45 10.45 0 1 0 20.9 0a10.45 10.45 0 1 0 -20.9 0ZM1363.71 419.64a10.45 10.45 0 1 0 20.9 0a10.45 10.45 0 1 0 -20.9 0ZM1380.29 355.48a10.45 10.45 0 1 0 20.9 0a10.45 10.45 0 1 0 -20.9 0ZM1396.87 309.14a10.45 10.45 0 1 0 20.9 0a10.45 10.45 0 1 0 -20.9 0ZM1413.45 274.2a10.45 10.45 0 1 0 20.9 0a10.45 10.45 0 1 0 -20.9 0ZM1430.03 245.52a10.45 10.45 0 1 0 20.9 0a10.45 10.45 0 1 0 -20.9 0ZM1446.61 224.46a10.45 10.45 0 1 0 20.9 0a10.45 10.45 0 1 0 -20.9 0ZM1463.19 207.45a10.45 10.45 0 1 0 20.9 0a10.45 10.45 0 1 0 -20.9 0ZM1479.77 194.16a10.45 10.45 0 1 0 20.9 0a10.45 10.45 0 1 0 -20.9 0ZM1496.35 184.12a10.45 10.45 0 1 0 20.9 0a10.45 10.45 0 1 0 -20.9 0ZM1512.93 175.2a10.45 10.45 0 1 0 20.9 0a10.45 10.45 0 1 0 -20.9 0ZM1529.51 168.4a10.45 10.45 0 1 0 20.9 0a10.45 10.45 0 1 0 -20.9 0ZM1546.09 164.03a10.45 10.45 0 1 0 20.9 0a10.45 10.45 0 1 0 -20.9 0ZM1562.67 159.17a10.45 10.45 0 1 0 20.9 0a10.45 10.45 0 1 0 -20.9 0ZM1579.25 155.76a10.45 10.45 0 1 0 20.9 0a10.45 10.45 0 1 0 -20.9 0ZM1595.83 153.49a10.45 10.45 0 1 0 20.9 0a10.45 10.45 0 1 0 -20.9 0ZM1612.41 153.33a10.45 10.45 0 1 0 20.9 0a10.45 10.45 0 1 0 -20.9 0ZM1628.99 152.36a10.45 10.45 0 1 0 20.9 0a10.45 10.45 0 1 0 -20.9 0ZM1645.57 152.68a10.45 10.45 0 1 0 20.9 0a10.45 10.45 0 1 0 -20.9 0ZM1662.15 151.55a10.45 10.45 0 1 0 20.9 0a10.45 10.45 0 1 0 -20.9 0ZM1678.73 152.68a10.45 10.45 0 1 0 20.9 0a10.45 10.45 0 1 0 -20.9 0ZM1695.31 152.68a10.45 10.45 0 1 0 20.9 0a10.45 10.45 0 1 0 -20.9 0ZM1711.89 153.49a10.45 10.45 0 1 0 20.9 0a10.45 10.45 0 1 0 -20.9 0ZM1728.47 153.98a10.45 10.45 0 1 0 20.9 0a10.45 10.45 0 1 0 -20.9 0ZM1745.05 155.49a10.45 10.45 0 1 0 20.9 0a10.45 10.45 0 1 0 -20.9 0ZM1761.63 157.54a10.45 10.45 0 1 0 20.9 0a10.45 10.45 0 1 0 -20.9 0ZM1778.21 159.75a10.45 10.45 0 1 0 20.9 0a10.45 10.45 0 1 0 -20.9 0ZM1794.79 161.59a10.45 10.45 0 1 0 20.9 0a10.45 10.45 0 1 0 -20.9 0ZM1811.37 162.83a10.45 10.45 0 1 0 20.9 0a10.45 10.45 0 1 0 -20.9 0ZM1827.95 165.16a10.45 10.45 0 1 0 20.9 0a10.45 10.45 0 1 0 -20.9 0ZM1844.53 165.91a10.45 10.45 0 1 0 20.9 0a10.45 10.45 0 1 0 -20.9 0ZM1861.11 168.72a10.45 10.45 0 1 0 20.9 0a10.45 10.45 0 1 0 -20.9 0ZM1877.69 171.74a10.45 10.45 0 1 0 20.9 0a10.45 10.45 0 1 0 -20.9 0ZM1894.27 172.82a10.45 10.45 0 1 0 20.9 0a10.45 10.45 0 1 0 -20.9 0ZM1910.85 175.63a10.45 10.45 0 1 0 20.9 0a10.45 10.45 0 1 0 -20.9 0ZM1927.43 176.98a10.45 10.45 0 1 0 20.9 0a10.45 10.45 0 1 0 -20.9 0ZM1944.01 179.63a10.45 10.45 0 1 0 20.9 0a10.45 10.45 0 1 0 -20.9 0ZM1960.59 181.52a10.45 10.45 0 1 0 20.9 0a10.45 10.45 0 1 0 -20.9 0ZM1977.17 184.3a10.45 10.45 0 1 0 20.9 0a10.45 10.45 0 1 0 -20.9 0ZM1993.75 185.49a10.45 10.45 0 1 0 20.9 0a10.45 10.45 0 1 0 -20.9 0ZM2010.33 188.46a10.45 10.45 0 1 0 20.9 0a10.45 10.45 0 1 0 -20.9 0ZM2026.91 189.54a10.45 10.45 0 1 0 20.9 0a10.45 10.45 0 1 0 -20.9 0ZM2043.49 191.75a10.45 10.45 0 1 0 20.9 0a10.45 10.45 0 1 0 -20.9 0ZM2060.07 196.45a10.45 10.45 0 1 0 20.9 0a10.45 10.45 0 1 0 -20.9 0ZM2076.65 196.61a10.45 10.45 0 1 0 20.9 0a10.45 10.45 0 1 0 -20.9 0ZM2093.23 198.45a10.45 10.45 0 1 0 20.9 0a10.45 10.45 0 1 0 -20.9 0ZM2109.81 201.74a10.45 10.45 0 1 0 20.9 0a10.45 10.45 0 1 0 -20.9 0ZM2126.39 202.99a10.45 10.45 0 1 0 20.9 0a10.45 10.45 0 1 0 -20.9 0ZM2142.97 205.36a10.45 10.45 0 1 0 20.9 0a10.45 10.45 0 1 0 -20.9 0ZM2159.55 207.9a10.45 10.45 0 1 0 20.9 0a10.45 10.45 0 1 0 -20.9 0Z"/>
<path class="cir" d="M1347.13 505.66a10.45 10.45 0 1 0 20.9 0a10.45 10.45 0 1 0 -20.9 0ZM1363.71 419.64a10.45 10.45 0 1 0 20.9 0a10.45 10.45 0 1 0 -20.9 0ZM1380.29 355.48a10.45 10.45 0 1 0 20.9 0a10.45 10.45 0 1 0 -20.9 0ZM1396.87 309.14a10.45 10.45 0 1 0 20.9 0a10.45 10.45 0 1 0 -20.9 0ZM1413.45 274.2a10.45 10.45 0 1 0 20.9 0a10.45 10.45 0 1 0 -20.9 0ZM1430.03 245.52a10.45 10.45 0 1 0 20.9 0a10.45 10.45 0 1 0 -20.9 0ZM1446.61 224.46a10.45 10.45 0 1 0 20.9 0a10.45 10.45 0 1 0 -20.9 0ZM1463.19 207.45a10.45 10.45 0 1 0 20.9 0a10.45 10.45 0 1 0 -20.9 0ZM1479.77 194.16a10.45 10.45 0 1 0 20.9 0a10.45 10.45 0 1 0 -20.9 0ZM1496.35 184.12a10.45 10.45 0 1 0 20.9 0a10.45 10.45 0 1 0 -20.9 0ZM1512.93 175.2a10.45 10.45 0 1 0 20.9 0a10.45 10.45 0 1 0 -20.9 0ZM1529.51 168.4a10.45 10.45 0 1 0 20.9 0a10.45 10.45 0 1 0 -20.9 0ZM1546.09 164.03a10.45 10.45 0 1 0 20.9 0a10.45 10.45 0 1 0 -20.9 0ZM1562.67 159.17a10.45 10.45 0 1 0 20.9 0a10.45 10.45 0 1 0 -20.9 0ZM1579.25 155.76a10.45 10.45 0 1 0 20.9 0a10.45 10.45 0 1 0 -20.9 0ZM1595.83 153.49a10.45 10.45 0 1 0 20.9 0a10.45 10.45 0 1 0 -20.9 0ZM1612.41 153.33a10.45 10.45 0 1 0 20.9 0a10.45 10.45 0 1 0 -20.9 0ZM1628.99 152.36a10.45 10.45 0 1 0 20.9 0a10.45 10.45 0 1 0 -20.9 0ZM1645.57 152.68a10.45 10.45 0 1 0 20.9 0a10.45 10.45 0 1 0 -20.9 0ZM1662.15 151.55a10.45 10.45 0 1 0 20.9 0a10.45 10.45 0 1 0 -20.9 0ZM1678.73 152.68a10.45 10.45 0 1 0 20.9 0a10.45 10.45 0 1 0 -20.9 0ZM1695.31 152.68a10.45 10.45 0 1 0 20.9 0a10.45 10.45 0 1 0 -20.9 0ZM1711.89 153.49a10.45 10.45 0 1 0 20.9 0a10.45 10.45 0 1 0 -20.9 0ZM1728.47 153.98a10.45 10.45 0 1 0 20.9 0a10.45 10.45 0 1 0 -20.9 0ZM1745.05 155.49a10.45 10.45 0 1 0 20.9 0a10.45 10.45 0 1 0 -20.9 0ZM1761.63 157.54a10.45 10.45 0 1 0 20.9 0a10.45 10.45 0 1 0 -20.9 0ZM1778.21 159.75a10.45 10.45 0 1 0 20.9 0a10.45 10.45 0 1 0 -20.9 0ZM1794.79 161.59a10.45 10.45 0 1 0 20.9 0a10.45 10.45 0 1 0 -20.9 0ZM1811.37 162.83a10.45 10.45 0 1 0 20.9 0a10.45 10.45 0 1 0 -20.9 0ZM1827.95 165.16a10.45 10.45 0 1 0 20.9 0a10.45 10.45 0 1 0 -20.9 0ZM1844.53 165.91a10.45 10.45 0 1 0 20.9 0a10.45 10.45 0 1 0 -20.9 0ZM1861.11 168.72a10.45 10.45 0 1 0 20.9 0a10.45 10.45 0 1 0 -20.9 0ZM1877.69 171.74a10.45 10.45 0 1 0 20.9 0a10.45 10.45 0 1 0 -20.9 0ZM1894.27 172.82a10.45 10.45 0 1 0 20.9 0a10.45 10.45 0 1 0 -20.9 0ZM1910.85 175.63a10.45 10.45 0 1 0 20.9 0a10.45 10.45 0 1 0 -20.9 0ZM1927.43 176.98a10.45 10.45 0 1 0 20.9 0a10.45 10.45 0 1 0 -20.9 0ZM1944.01 179.63a10.45 10.45 0 1 0 20.9 0a10.45 10.45 0 1 0 -20.9 0ZM1960.59 181.52a10.45 10.45 0 1 0 20.9 0a10.45 10.45 0 1 0 -20.9 0ZM1977.17 184.3a10.45 10.45 0 1 0 20.9 0a10.45 10.45 0 1 0 -20.9 0ZM1993.75 185.49a10.45 10.45 0 1 0 20.9 0a10.45 10.45 0 1 0 -20.9 0ZM2010.33 188.46a10.45 10.45 0 1 0 20.9 0a10.45 10.45 0 1 0 -20.9 0ZM2026.91 189.54a10.45 10.45 0 1 0 20.9 0a10.45 10.45 0 1 0 -20.9 0ZM2043.49 191.75a10.45 10.45 0 1 0 20.9 0a10.45 10.45 0 1 0 -20.9 0ZM2060.07 196.45a10.45 10.45 0 1 0 20.9 0a10.45 10.45 0 1 0 -20.9 0ZM2076.65 196.61a10.45 10.45 0 1 0 20.9 0a10.45 10.45 0 1 0 -20.9 0ZM2093.23 198.45a10.45 10.45 0 1 0 20.9 0a10.45 10.45 0 1 0 -20.9 0ZM2109.81 201.74a10.45 10.45 0 1 0 20.9 0a10.45 10.45 0 1 0 -20.9 0ZM2126.39 202.99a10.45 10.45 0 1 0 20.9 0a10.45 10.45 0 1 0 -20.9 0ZM2142.97 205.36a10.45 10.45 0 1 0 20.9 0a10.45 10.45 0 1 0 -20.9 0ZM2159.55 207.9a10.45 10.45 0 1 0 20.9 0a10.45 10.45 0 1 0 -20.9 0Z"/>
<path class="ln" d="M1341 632L1343.07 613.89L1345.14 596.65L1347.22 580.22L1349.29 564.55L1351.36 549.6L1353.43 535.31L1355.51 521.65L1357.58 508.59L1359.65 496.09L1361.72 484.11L1363.8 472.64L1365.87 461.63L1367.94 451.07L1370.02 440.94L1372.09 431.2L1374.16 421.85L1376.23 412.85L1378.31 404.2L1380.38 395.88L1382.45 387.86L1384.52 380.15L1386.6 372.71L1388.67 365.54L1390.74 358.63L1392.81 351.97L1394.88 345.54L1396.96 339.33L1399.03 333.34L1401.1 327.55L1403.17 321.96L1405.25 316.56L1407.32 311.34L1409.39 306.29L1411.46 301.41L1413.54 296.69L1415.61 292.12L1417.68 287.7L1419.76 283.42L1421.83 279.28L1423.9 275.26L1425.97 271.38L1428.05 267.61L1430.12 263.97L1432.19 260.43L1434.26 257.01L1436.34 253.69L1438.41 250.47L1440.48 247.34L1442.55 244.32L1444.62 241.38L1446.7 238.53L1448.77 235.77L1450.84 233.09L1452.91 230.49L1454.99 227.96L1457.06 225.51L1459.13 223.13L1461.2 220.82L1463.28 218.58L1465.35 216.4L1467.42 214.29L1469.49 212.24L1471.57 210.25L1473.64 208.31L1475.71 206.43L1477.79 204.61L1479.86 202.83L1481.93 201.11L1484 199.44L1486.08 197.81L1488.15 196.23L1490.22 194.7L1492.29 193.21L1494.37 191.77L1496.44 190.36L1498.51 189L1500.58 187.67L1502.65 186.38L1504.73 185.13L1506.8 183.92L1508.87 182.74L1510.94 181.6L1513.02 180.48L1515.09 179.4L1517.16 178.36L1519.23 177.34L1521.31 176.35L1523.38 175.39L1525.45 174.46L1527.53 173.55L1529.6 172.68L1531.67 171.83L1533.74 171L1535.82 170.2L1537.89 169.42L1539.96 168.67L1542.03 167.94L1544.11 167.23L1546.18 166.55L1548.25 165.88L1550.32 165.24L1552.39 164.62L1554.47 164.01L1556.54 163.43L1558.61 162.86L1560.68 162.31L1562.76 161.79L1564.83 161.27L1566.9 160.78L1568.97 160.3L1571.05 159.84L1573.12 159.39L1575.19 158.96L1577.27 158.55L1579.34 158.14L1581.41 157.76L1583.48 157.39L1585.56 157.03L1587.63 156.68L1589.7 156.35L1591.77 156.03L1593.85 155.73L1595.92 155.43L1597.99 155.15L1600.06 154.88L1602.13 154.62L1604.21 154.38L1606.28 154.14L1608.35 153.91L1610.42 153.7L1612.5 153.49L1614.57 153.3L1616.64 153.11L1618.72 152.94L1620.79 152.77L1622.86 152.62L1624.93 152.47L1627.01 152.33L1629.08 152.2L1631.15 152.08L1633.22 151.97L1635.3 151.86L1637.37 151.76L1639.44 151.68L1641.51 151.59L1643.59 151.52L1645.66 151.45L1647.73 151.39L1649.8 151.34L1651.88 151.29L1653.95 151.25L1656.02 151.22L1658.09 151.19L1660.16 151.17L1662.24 151.16L1664.31 151.15L1666.38 151.15L1668.45 151.15L1670.53 151.16L1672.6 151.18L1674.67 151.2L1676.74 151.22L1678.82 151.25L1680.89 151.29L1682.96 151.33L1685.04 151.38L1687.11 151.43L1689.18 151.48L1691.25 151.54L1693.33 151.61L1695.4 151.68L1697.47 151.75L1699.54 151.83L1701.62 151.91L1703.69 152L1705.76 152.08L1707.83 152.18L1709.9 152.28L1711.98 152.38L1714.05 152.48L1716.12 152.59L1718.19 152.7L1720.27 152.82L1722.34 152.94L1724.41 153.06L1726.49 153.19L1728.56 153.32L1730.63 153.45L1732.7 153.58L1734.78 153.72L1736.85 153.86L1738.92 154.01L1740.99 154.15L1743.07 154.3L1745.14 154.45L1747.21 154.61L1749.28 154.77L1751.36 154.93L1753.43 155.09L1755.5 155.26L1757.57 155.42L1759.64 155.59L1761.72 155.77L1763.79 155.94L1765.86 156.12L1767.93 156.3L1770.01 156.48L1772.08 156.66L1774.15 156.85L1776.22 157.03L1778.3 157.22L1780.37 157.41L1782.44 157.61L1784.51 157.8L1786.59 158L1788.66 158.2L1790.73 158.4L1792.81 158.6L1794.88 158.8L1796.95 159.01L1799.02 159.22L1801.1 159.42L1803.17 159.63L1805.24 159.85L1807.31 160.06L1809.38 160.27L1811.46 160.49L1813.53 160.71L1815.6 160.92L1817.67 161.14L1819.75 161.37L1821.82 161.59L1823.89 161.81L1825.96 162.04L1828.04 162.26L1830.11 162.49L1832.18 162.72L1834.26 162.95L1836.33 163.18L1838.4 163.41L1840.47 163.65L1842.55 163.88L1844.62 164.11L1846.69 164.35L1848.76 164.59L1850.84 164.82L1852.91 165.06L1854.98 165.3L1857.05 165.54L1859.12 165.79L1861.2 166.03L1863.27 166.27L1865.34 166.51L1867.41 166.76L1869.49 167L1871.56 167.25L1873.63 167.5L1875.7 167.74L1877.78 167.99L1879.85 168.24L1881.92 168.49L1883.99 168.74L1886.07 168.99L1888.14 169.24L1890.21 169.5L1892.29 169.75L1894.36 170L1896.43 170.26L1898.5 170.51L1900.58 170.76L1902.65 171.02L1904.72 171.28L1906.79 171.53L1908.87 171.79L1910.94 172.05L1913.01 172.3L1915.08 172.56L1917.15 172.82L1919.23 173.08L1921.3 173.34L1923.37 173.6L1925.44 173.86L1927.52 174.12L1929.59 174.38L1931.66 174.64L1933.74 174.9L1935.81 175.16L1937.88 175.43L1939.95 175.69L1942.03 175.95L1944.1 176.21L1946.17 176.48L1948.24 176.74L1950.32 177L1952.39 177.27L1954.46 177.53L1956.53 177.8L1958.61 178.06L1960.68 178.33L1962.75 178.59L1964.82 178.86L1966.89 179.12L1968.97 179.39L1971.04 179.65L1973.11 179.92L1975.18 180.19L1977.26 180.45L1979.33 180.72L1981.4 180.98L1983.47 181.25L1985.55 181.52L1987.62 181.78L1989.69 182.05L1991.76 182.32L1993.84 182.58L1995.91 182.85L1997.98 183.12L2000.06 183.39L2002.13 183.65L2004.2 183.92L2006.27 184.19L2008.35 184.45L2010.42 184.72L2012.49 184.99L2014.56 185.26L2016.63 185.52L2018.71 185.79L2020.78 186.06L2022.85 186.33L2024.92 186.59L2027 186.86L2029.07 187.13L2031.14 187.4L2033.21 187.66L2035.29 187.93L2037.36 188.2L2039.43 188.47L2041.5 188.73L2043.58 189L2045.65 189.27L2047.72 189.53L2049.8 189.8L2051.87 190.07L2053.94 190.34L2056.01 190.6L2058.09 190.87L2060.16 191.14L2062.23 191.4L2064.3 191.67L2066.38 191.94L2068.45 192.2L2070.52 192.47L2072.59 192.73L2074.66 193L2076.74 193.27L2078.81 193.53L2080.88 193.8L2082.95 194.06L2085.03 194.33L2087.1 194.59L2089.17 194.86L2091.24 195.12L2093.32 195.39L2095.39 195.65L2097.46 195.92L2099.53 196.18L2101.61 196.45L2103.68 196.71L2105.75 196.97L2107.82 197.24L2109.9 197.5L2111.97 197.77L2114.04 198.03L2116.11 198.29L2118.19 198.56L2120.26 198.82L2122.33 199.08L2124.4 199.34L2126.48 199.61L2128.55 199.87L2130.62 200.13L2132.7 200.39L2134.77 200.65L2136.84 200.91L2138.91 201.18L2140.99 201.44L2143.06 201.7L2145.13 201.96L2147.2 202.22L2149.28 202.48L2151.35 202.74L2153.42 203L2155.49 203.26L2157.57 203.52L2159.64 203.78L2161.71 204.04L2163.78 204.29L2165.86 204.55L2167.93 204.81L2170 205.07"/>
<path class="tk" d="M1506 612h2v20h-2zM1506 38h2v20h-2zM1671 612h2v20h-2zM1671 38h2v20h-2zM1838 612h2v20h-2zM1838 38h2v20h-2zM2003 612h2v20h-2zM2003 38h2v20h-2zM1341 482h20v2h-20zM2150 482h20v2h-20zM1341 334h20v2h-20zM2150 334h20v2h-20zM1341 186h20v2h-20zM2150 186h20v2h-20z"/>
<rect class="fr" x="1341" y="38" width="829" height="594"/>
</g>
<text transform="translate(1346.5 690) scale(0.94 1)" text-anchor="middle">0</text>
<text transform="translate(1512.3 690) scale(0.94 1)" text-anchor="middle">2</text>
<text transform="translate(1678.1 690) scale(0.94 1)" text-anchor="middle">4</text>
<text transform="translate(1843.9 690) scale(0.94 1)" text-anchor="middle">6</text>
<text transform="translate(2009.7 690) scale(0.94 1)" text-anchor="middle">8</text>
<text transform="translate(2175.5 690) scale(0.94 1)" text-anchor="middle">10</text>
<text transform="translate(1313.6 647) scale(0.94 1)" text-anchor="end">0</text>
<text transform="translate(1313.6 498) scale(0.94 1)" text-anchor="end">0.1</text>
<text transform="translate(1313.6 350) scale(0.94 1)" text-anchor="end">0.2</text>
<text transform="translate(1313.6 201) scale(0.94 1)" text-anchor="end">0.3</text>
<text transform="translate(1313.6 53) scale(0.94 1)" text-anchor="end">0.4</text>
<text class="k" transform="translate(1758.1 755) scale(1.08 1)" text-anchor="middle">κ</text>
<text transform="translate(1171.5 333.5) rotate(-90) scale(1 1)" text-anchor="middle"><tspan class="it">p</tspan><tspan class="sub" dx="-2.5" dy="13.56">2</tspan></text>
</g>
<g class="panel" id="panel3">
<g shape-rendering="crispEdges">
<path class="ol" d="M250.63 1407.85L261.06 1390.95L271.49 1407.85ZM266.69 1376.74L277.12 1359.84L287.55 1376.74ZM282.75 1339.97L293.18 1323.07L303.61 1339.97ZM298.81 1302.38L309.24 1285.48L319.67 1302.38ZM314.87 1266.41L325.3 1249.51L335.73 1266.41ZM330.93 1233.52L341.36 1216.62L351.79 1233.52ZM346.99 1202.25L357.42 1185.35L367.85 1202.25ZM363.05 1172.28L373.48 1155.38L383.91 1172.28ZM379.11 1147.22L389.54 1130.32L399.97 1147.22ZM395.17 1126.05L405.6 1109.15L416.03 1126.05ZM411.23 1103.75L421.66 1086.85L432.09 1103.75ZM427.29 1083.33L437.72 1066.43L448.15 1083.33ZM443.35 1064.43L453.78 1047.53L464.21 1064.43ZM459.41 1049.5L469.84 1032.6L480.27 1049.5ZM475.47 1033.24L485.9 1016.34L496.33 1033.24ZM491.53 1018.31L501.96 1001.41L512.39 1018.31ZM507.59 1006.4L518.02 989.5L528.45 1006.4ZM523.65 995.44L534.08 978.54L544.51 995.44ZM539.71 986.18L550.14 969.28L560.57 986.18ZM555.77 976.16L566.2 959.26L576.63 976.16ZM571.83 965.39L582.26 948.49L592.69 965.39ZM587.89 958.2L598.32 941.3L608.75 958.2ZM603.95 948.49L614.38 931.59L624.81 948.49ZM620.01 940.05L630.44 923.15L640.87 940.05ZM636.07 936.56L646.5 919.66L656.93 936.56ZM652.13 928.12L662.56 911.22L672.99 928.12ZM668.19 925.98L678.62 909.09L689.05 925.98ZM684.25 923.17L694.68 906.27L705.11 923.17ZM700.31 915.52L710.74 898.62L721.17 915.52ZM716.37 908.88L726.8 891.98L737.23 908.88ZM732.43 906.52L742.86 889.62L753.29 906.52ZM748.49 902.13L758.92 885.23L769.35 902.13ZM764.55 898.42L774.98 881.52L785.41 898.42ZM780.61 896.51L791.04 879.61L801.47 896.51ZM796.67 894.93L807.1 878.03L817.53 894.93ZM812.73 890.54L823.16 873.64L833.59 890.54ZM828.79 888.94L839.22 872.04L849.65 888.94ZM844.85 885L855.28 868.1L865.71 885ZM860.91 885L871.34 868.1L881.77 885ZM876.97 882.98L887.4 866.08L897.83 882.98ZM893.03 881.96L903.46 865.06L913.89 881.96ZM909.09 879.04L919.52 862.14L929.95 879.04ZM925.15 876.9L935.58 860L946.01 876.9ZM941.21 874.65L951.64 857.75L962.07 874.65ZM957.27 873.75L967.7 856.85L978.13 873.75ZM973.33 874.65L983.76 857.75L994.19 874.65ZM989.39 874.88L999.82 857.98L1010.25 874.88ZM1005.45 872.85L1015.88 855.95L1026.31 872.85ZM1021.51 870.94L1031.94 854.04L1042.37 870.94ZM1037.57 870.49L1048 853.59L1058.43 870.49Z"/>
<path class="tri" d="M250.63 1407.85L261.06 1390.95L271.49 1407.85ZM266.69 1376.74L277.12 1359.84L287.55 1376.74ZM282.75 1339.97L293.18 1323.07L303.61 1339.97ZM298.81 1302.38L309.24 1285.48L319.67 1302.38ZM314.87 1266.41L325.3 1249.51L335.73 1266.41ZM330.93 1233.52L341.36 1216.62L351.79 1233.52ZM346.99 1202.25L357.42 1185.35L367.85 1202.25ZM363.05 1172.28L373.48 1155.38L383.91 1172.28ZM379.11 1147.22L389.54 1130.32L399.97 1147.22ZM395.17 1126.05L405.6 1109.15L416.03 1126.05ZM411.23 1103.75L421.66 1086.85L432.09 1103.75ZM427.29 1083.33L437.72 1066.43L448.15 1083.33ZM443.35 1064.43L453.78 1047.53L464.21 1064.43ZM459.41 1049.5L469.84 1032.6L480.27 1049.5ZM475.47 1033.24L485.9 1016.34L496.33 1033.24ZM491.53 1018.31L501.96 1001.41L512.39 1018.31ZM507.59 1006.4L518.02 989.5L528.45 1006.4ZM523.65 995.44L534.08 978.54L544.51 995.44ZM539.71 986.18L550.14 969.28L560.57 986.18ZM555.77 976.16L566.2 959.26L576.63 976.16ZM571.83 965.39L582.26 948.49L592.69 965.39ZM587.89 958.2L598.32 941.3L608.75 958.2ZM603.95 948.49L614.38 931.59L624.81 948.49ZM620.01 940.05L630.44 923.15L640.87 940.05ZM636.07 936.56L646.5 919.66L656.93 936.56ZM652.13 928.12L662.56 911.22L672.99 928.12ZM668.19 925.98L678.62 909.09L689.05 925.98ZM684.25 923.17L694.68 906.27L705.11 923.17ZM700.31 915.52L710.74 898.62L721.17 915.52ZM716.37 908.88L726.8 891.98L737.23 908.88ZM732.43 906.52L742.86 889.62L753.29 906.52ZM748.49 902.13L758.92 885.23L769.35 902.13ZM764.55 898.42L774.98 881.52L785.41 898.42ZM780.61 896.51L791.04 879.61L801.47 896.51ZM796.67 894.93L807.1 878.03L817.53 894.93ZM812.73 890.54L823.16 873.64L833.59 890.54ZM828.79 888.94L839.22 872.04L849.65 888.94ZM844.85 885L855.28 868.1L865.71 885ZM860.91 885L871.34 868.1L881.77 885ZM876.97 882.98L887.4 866.08L897.83 882.98ZM893.03 881.96L903.46 865.06L913.89 881.96ZM909.09 879.04L919.52 862.14L929.95 879.04ZM925.15 876.9L935.58 860L946.01 876.9ZM941.21 874.65L951.64 857.75L962.07 874.65ZM957.27 873.75L967.7 856.85L978.13 873.75ZM973.33 874.65L983.76 857.75L994.19 874.65ZM989.39 874.88L999.82 857.98L1010.25 874.88ZM1005.45 872.85L1015.88 855.95L1026.31 872.85ZM1021.51 870.94L1031.94 854.04L1042.37 870.94ZM1037.57 870.49L1048 853.59L1058.43 870.49Z"/>
<path class="ol" d="M250.61 1405.42a10.45 10.45 0 1 0 20.9 0a10.45 10.45 0 1 0 -20.9 0ZM266.67 1378.52a10.45 10.45 0 1 0 20.9 0a10.45 10.45 0 1 0 -20.9 0ZM282.73 1347.41a10.45 10.45 0 1 0 20.9 0a10.45 10.45 0 1 0 -20.9 0ZM298.79 1315.34a10.45 10.45 0 1 0 20.9 0a10.45 10.45 0 1 0 -20.9 0ZM314.85 1283.82a10.45 10.45 0 1 0 20.9 0a10.45 10.45 0 1 0 -20.9 0ZM330.91 1253.2a10.45 10.45 0 1 0 20.9 0a10.45 10.45 0 1 0 -20.9 0ZM346.97 1224.44a10.45 10.45 0 1 0 20.9 0a10.45 10.45 0 1 0 -20.9 0ZM363.03 1199.74a10.45 10.45 0 1 0 20.9 0a10.45 10.45 0 1 0 -20.9 0ZM379.09 1175.08a10.45 10.45 0 1 0 20.9 0a10.45 10.45 0 1 0 -20.9 0ZM395.15 1150.89a10.45 10.45 0 1 0 20.9 0a10.45 10.45 0 1 0 -20.9 0ZM411.21 1133.12a10.45 10.45 0 1 0 20.9 0a10.45 10.45 0 1 0 -20.9 0ZM427.27 1113.65a10.45 10.45 0 1 0 20.9 0a10.45 10.45 0 1 0 -20.9 0ZM443.33 1094.75a10.45 10.45 0 1 0 20.9 0a10.45 10.45 0 1 0 -20.9 0ZM459.39 1079.06a10.45 10.45 0 1 0 20.9 0a10.45 10.45 0 1 0 -20.9 0ZM475.45 1065.45a10.45 10.45 0 1 0 20.9 0a10.45 10.45 0 1 0 -20.9 0ZM491.51 1049.39a10.45 10.45 0 1 0 20.9 0a10.45 10.45 0 1 0 -20.9 0ZM507.57 1036.15a10.45 10.45 0 1 0 20.9 0a10.45 10.45 0 1 0 -20.9 0ZM523.63 1024.81a10.45 10.45 0 1 0 20.9 0a10.45 10.45 0 1 0 -20.9 0ZM539.69 1013.85a10.45 10.45 0 1 0 20.9 0a10.45 10.45 0 1 0 -20.9 0ZM555.75 1002.7a10.45 10.45 0 1 0 20.9 0a10.45 10.45 0 1 0 -20.9 0ZM571.81 992.11a10.45 10.45 0 1 0 20.9 0a10.45 10.45 0 1 0 -20.9 0ZM587.87 984.17a10.45 10.45 0 1 0 20.9 0a10.45 10.45 0 1 0 -20.9 0ZM603.93 975.43a10.45 10.45 0 1 0 20.9 0a10.45 10.45 0 1 0 -20.9 0ZM619.99 967.77a10.45 10.45 0 1 0 20.9 0a10.45 10.45 0 1 0 -20.9 0ZM636.05 960.35a10.45 10.45 0 1 0 20.9 0a10.45 10.45 0 1 0 -20.9 0ZM652.11 953.49a10.45 10.45 0 1 0 20.9 0a10.45 10.45 0 1 0 -20.9 0ZM668.17 946.4a10.45 10.45 0 1 0 20.9 0a10.45 10.45 0 1 0 -20.9 0ZM684.23 941.9a10.45 10.45 0 1 0 20.9 0a10.45 10.45 0 1 0 -20.9 0ZM700.29 935.71a10.45 10.45 0 1 0 20.9 0a10.45 10.45 0 1 0 -20.9 0ZM716.35 929.86a10.45 10.45 0 1 0 20.9 0a10.45 10.45 0 1 0 -20.9 0ZM732.41 925.81a10.45 10.45 0 1 0 20.9 0a10.45 10.45 0 1 0 -20.9 0ZM748.47 920.52a10.45 10.45 0 1 0 20.9 0a10.45 10.45 0 1 0 -20.9 0ZM764.53 915.46a10.45 10.45 0 1 0 20.9 0a10.45 10.45 0 1 0 -20.9 0ZM780.59 911.74a10.45 10.45 0 1 0 20.9 0a10.45 10.45 0 1 0 -20.9 0ZM796.65 908.93a10.45 10.45 0 1 0 20.9 0a10.45 10.45 0 1 0 -20.9 0ZM812.71 903.98a10.45 10.45 0 1 0 20.9 0a10.45 10.45 0 1 0 -20.9 0ZM828.77 901a10.45 10.45 0 1 0 20.9 0a10.45 10.45 0 1 0 -20.9 0ZM844.83 897.06a10.45 10.45 0 1 0 20.9 0a10.45 10.45 0 1 0 -20.9 0ZM860.89 893.68a10.45 10.45 0 1 0 20.9 0a10.45 10.45 0 1 0 -20.9 0ZM876.95 892.33a10.45 10.45 0 1 0 20.9 0a10.45 10.45 0 1 0 -20.9 0ZM893.01 888.28a10.45 10.45 0 1 0 20.9 0a10.45 10.45 0 1 0 -20.9 0ZM909.07 886.03a10.45 10.45 0 1 0 20.9 0a10.45 10.45 0 1 0 -20.9 0ZM925.13 883.89a10.45 10.45 0 1 0 20.9 0a10.45 10.45 0 1 0 -20.9 0ZM941.19 883.89a10.45 10.45 0 1 0 20.9 0a10.45 10.45 0 1 0 -20.9 0ZM957.25 878.83a10.45 10.45 0 1 0 20.9 0a10.45 10.45 0 1 0 -20.9 0ZM973.31 877.71a10.45 10.45 0 1 0 20.9 0a10.45 10.45 0 1 0 -20.9 0ZM989.37 877.03a10.45 10.45 0 1 0 20.9 0a10.45 10.45 0 1 0 -20.9 0ZM1005.43 875.68a10.45 10.45 0 1 0 20.9 0a10.45 10.45 0 1 0 -20.9 0ZM1021.49 873.99a10.45 10.45 0 1 0 20.9 0a10.45 10.45 0 1 0 -20.9 0ZM1037.55 870.96a10.45 10.45 0 1 0 20.9 0a10.45 10.45 0 1 0 -20.9 0Z"/>
<path class="cir" d="M250.61 1405.42a10.45 10.45 0 1 0 20.9 0a10.45 10.45 0 1 0 -20.9 0ZM266.67 1378.52a10.45 10.45 0 1 0 20.9 0a10.45 10.45 0 1 0 -20.9 0ZM282.73 1347.41a10.45 10.45 0 1 0 20.9 0a10.45 10.45 0 1 0 -20.9 0ZM298.79 1315.34a10.45 10.45 0 1 0 20.9 0a10.45 10.45 0 1 0 -20.9 0ZM314.85 1283.82a10.45 10.45 0 1 0 20.9 0a10.45 10.45 0 1 0 -20.9 0ZM330.91 1253.2a10.45 10.45 0 1 0 20.9 0a10.45 10.45 0 1 0 -20.9 0ZM346.97 1224.44a10.45 10.45 0 1 0 20.9 0a10.45 10.45 0 1 0 -20.9 0ZM363.03 1199.74a10.45 10.45 0 1 0 20.9 0a10.45 10.45 0 1 0 -20.9 0ZM379.09 1175.08a10.45 10.45 0 1 0 20.9 0a10.45 10.45 0 1 0 -20.9 0ZM395.15 1150.89a10.45 10.45 0 1 0 20.9 0a10.45 10.45 0 1 0 -20.9 0ZM411.21 1133.12a10.45 10.45 0 1 0 20.9 0a10.45 10.45 0 1 0 -20.9 0ZM427.27 1113.65a10.45 10.45 0 1 0 20.9 0a10.45 10.45 0 1 0 -20.9 0ZM443.33 1094.75a10.45 10.45 0 1 0 20.9 0a10.45 10.45 0 1 0 -20.9 0ZM459.39 1079.06a10.45 10.45 0 1 0 20.9 0a10.45 10.45 0 1 0 -20.9 0ZM475.45 1065.45a10.45 10.45 0 1 0 20.9 0a10.45 10.45 0 1 0 -20.9 0ZM491.51 1049.39a10.45 10.45 0 1 0 20.9 0a10.45 10.45 0 1 0 -20.9 0ZM507.57 1036.15a10.45 10.45 0 1 0 20.9 0a10.45 10.45 0 1 0 -20.9 0ZM523.63 1024.81a10.45 10.45 0 1 0 20.9 0a10.45 10.45 0 1 0 -20.9 0ZM539.69 1013.85a10.45 10.45 0 1 0 20.9 0a10.45 10.45 0 1 0 -20.9 0ZM555.75 1002.7a10.45 10.45 0 1 0 20.9 0a10.45 10.45 0 1 0 -20.9 0ZM571.81 992.11a10.45 10.45 0 1 0 20.9 0a10.45 10.45 0 1 0 -20.9 0ZM587.87 984.17a10.45 10.45 0 1 0 20.9 0a10.45 10.45 0 1 0 -20.9 0ZM603.93 975.43a10.45 10.45 0 1 0 20.9 0a10.45 10.45 0 1 0 -20.9 0ZM619.99 967.77a10.45 10.45 0 1 0 20.9 0a10.45 10.45 0 1 0 -20.9 0ZM636.05 960.35a10.45 10.45 0 1 0 20.9 0a10.45 10.45 0 1 0 -20.9 0ZM652.11 953.49a10.45 10.45 0 1 0 20.9 0a10.45 10.45 0 1 0 -20.9 0ZM668.17 946.4a10.45 10.45 0 1 0 20.9 0a10.45 10.45 0 1 0 -20.9 0ZM684.23 941.9a10.45 10.45 0 1 0 20.9 0a10.45 10.45 0 1 0 -20.9 0ZM700.29 935.71a10.45 10.45 0 1 0 20.9 0a10.45 10.45 0 1 0 -20.9 0ZM716.35 929.86a10.45 10.45 0 1 0 20.9 0a10.45 10.45 0 1 0 -20.9 0ZM732.41 925.81a10.45 10.45 0 1 0 20.9 0a10.45 10.45 0 1 0 -20.9 0ZM748.47 920.52a10.45 10.45 0 1 0 20.9 0a10.45 10.45 0 1 0 -20.9 0ZM764.53 915.46a10.45 10.45 0 1 0 20.9 0a10.45 10.45 0 1 0 -20.9 0ZM780.59 911.74a10.45 10.45 0 1 0 20.9 0a10.45 10.45 0 1 0 -20.9 0ZM796.65 908.93a10.45 10.45 0 1 0 20.9 0a10.45 10.45 0 1 0 -20.9 0ZM812.71 903.98a10.45 10.45 0 1 0 20.9 0a10.45 10.45 0 1 0 -20.9 0ZM828.77 901a10.45 10.45 0 1 0 20.9 0a10.45 10.45 0 1 0 -20.9 0ZM844.83 897.06a10.45 10.45 0 1 0 20.9 0a10.45 10.45 0 1 0 -20.9 0ZM860.89 893.68a10.45 10.45 0 1 0 20.9 0a10.45 10.45 0 1 0 -20.9 0ZM876.95 892.33a10.45 10.45 0 1 0 20.9 0a10.45 10.45 0 1 0 -20.9 0ZM893.01 888.28a10.45 10.45 0 1 0 20.9 0a10.45 10.45 0 1 0 -20.9 0ZM909.07 886.03a10.45 10.45 0 1 0 20.9 0a10.45 10.45 0 1 0 -20.9 0ZM925.13 883.89a10.45 10.45 0 1 0 20.9 0a10.45 10.45 0 1 0 -20.9 0ZM941.19 883.89a10.45 10.45 0 1 0 20.9 0a10.45 10.45 0 1 0 -20.9 0ZM957.25 878.83a10.45 10.45 0 1 0 20.9 0a10.45 10.45 0 1 0 -20.9 0ZM973.31 877.71a10.45 10.45 0 1 0 20.9 0a10.45 10.45 0 1 0 -20.9 0ZM989.37 877.03a10.45 10.45 0 1 0 20.9 0a10.45 10.45 0 1 0 -20.9 0ZM1005.43 875.68a10.45 10.45 0 1 0 20.9 0a10.45 10.45 0 1 0 -20.9 0ZM1021.49 873.99a10.45 10.45 0 1 0 20.9 0a10.45 10.45 0 1 0 -20.9 0ZM1037.55 870.96a10.45 10.45 0 1 0 20.9 0a10.45 10.45 0 1 0 -20.9 0Z"/>
<path class="ln" d="M245 1417.5L247.01 1417.26L249.01 1416.58L251.02 1415.5L253.03 1414.07L255.04 1412.33L257.05 1410.3L259.05 1408.02L261.06 1405.51L263.07 1402.8L265.07 1399.91L267.08 1396.87L269.09 1393.68L271.1 1390.37L273.11 1386.95L275.11 1383.42L277.12 1379.82L279.13 1376.14L281.13 1372.4L283.14 1368.6L285.15 1364.75L287.16 1360.86L289.17 1356.95L291.17 1353L293.18 1349.03L295.19 1345.05L297.19 1341.06L299.2 1337.05L301.21 1333.05L303.22 1329.04L305.23 1325.04L307.23 1321.05L309.24 1317.06L311.25 1313.09L313.25 1309.13L315.26 1305.18L317.27 1301.25L319.28 1297.34L321.28 1293.45L323.29 1289.58L325.3 1285.73L327.31 1281.91L329.31 1278.11L331.32 1274.34L333.33 1270.59L335.34 1266.88L337.35 1263.18L339.35 1259.52L341.36 1255.88L343.37 1252.28L345.38 1248.7L347.38 1245.15L349.39 1241.64L351.4 1238.15L353.41 1234.69L355.41 1231.26L357.42 1227.86L359.43 1224.5L361.44 1221.16L363.44 1217.85L365.45 1214.57L367.46 1211.33L369.47 1208.11L371.47 1204.92L373.48 1201.77L375.49 1198.64L377.5 1195.54L379.5 1192.47L381.51 1189.44L383.52 1186.43L385.52 1183.44L387.53 1180.49L389.54 1177.57L391.55 1174.67L393.56 1171.81L395.56 1168.97L397.57 1166.15L399.58 1163.37L401.58 1160.61L403.59 1157.88L405.6 1155.18L407.61 1152.5L409.62 1149.85L411.62 1147.23L413.63 1144.63L415.64 1142.05L417.64 1139.5L419.65 1136.98L421.66 1134.48L423.67 1132.01L425.68 1129.56L427.68 1127.13L429.69 1124.73L431.7 1122.35L433.71 1119.99L435.71 1117.66L437.72 1115.35L439.73 1113.06L441.74 1110.8L443.74 1108.55L445.75 1106.33L447.76 1104.13L449.76 1101.95L451.77 1099.79L453.78 1097.66L455.79 1095.54L457.79 1093.45L459.8 1091.37L461.81 1089.31L463.82 1087.28L465.82 1085.26L467.83 1083.26L469.84 1081.29L471.85 1079.33L473.86 1077.39L475.86 1075.46L477.87 1073.56L479.88 1071.67L481.89 1069.81L483.89 1067.95L485.9 1066.12L487.91 1064.31L489.91 1062.51L491.92 1060.73L493.93 1058.96L495.94 1057.21L497.94 1055.48L499.95 1053.76L501.96 1052.06L503.97 1050.38L505.98 1048.71L507.98 1047.06L509.99 1045.42L512 1043.8L514 1042.19L516.01 1040.59L518.02 1039.02L520.03 1037.45L522.04 1035.9L524.04 1034.37L526.05 1032.84L528.06 1031.34L530.06 1029.84L532.07 1028.36L534.08 1026.89L536.09 1025.44L538.1 1024L540.1 1022.57L542.11 1021.16L544.12 1019.75L546.12 1018.36L548.13 1016.99L550.14 1015.62L552.15 1014.27L554.15 1012.93L556.16 1011.6L558.17 1010.28L560.18 1008.97L562.19 1007.68L564.19 1006.4L566.2 1005.13L568.21 1003.86L570.21 1002.62L572.22 1001.38L574.23 1000.15L576.24 998.93L578.25 997.73L580.25 996.53L582.26 995.34L584.27 994.17L586.27 993L588.28 991.85L590.29 990.7L592.3 989.57L594.3 988.44L596.31 987.33L598.32 986.22L600.33 985.12L602.34 984.04L604.34 982.96L606.35 981.89L608.36 980.83L610.37 979.78L612.37 978.74L614.38 977.7L616.39 976.68L618.39 975.66L620.4 974.66L622.41 973.66L624.42 972.67L626.42 971.69L628.43 970.71L630.44 969.75L632.45 968.79L634.45 967.84L636.46 966.9L638.47 965.96L640.48 965.04L642.49 964.12L644.49 963.21L646.5 962.3L648.51 961.41L650.51 960.52L652.52 959.64L654.53 958.76L656.54 957.9L658.55 957.04L660.55 956.19L662.56 955.34L664.57 954.5L666.58 953.67L668.58 952.84L670.59 952.03L672.6 951.21L674.6 950.41L676.61 949.61L678.62 948.82L680.63 948.03L682.63 947.25L684.64 946.48L686.65 945.71L688.66 944.95L690.66 944.2L692.67 943.45L694.68 942.71L696.69 941.97L698.7 941.24L700.7 940.51L702.71 939.79L704.72 939.08L706.73 938.37L708.73 937.67L710.74 936.98L712.75 936.29L714.75 935.6L716.76 934.92L718.77 934.25L720.78 933.58L722.79 932.91L724.79 932.25L726.8 931.6L728.81 930.95L730.81 930.31L732.82 929.67L734.83 929.04L736.84 928.41L738.85 927.79L740.85 927.17L742.86 926.56L744.87 925.95L746.88 925.34L748.88 924.74L750.89 924.15L752.9 923.56L754.9 922.97L756.91 922.39L758.92 921.82L760.93 921.25L762.94 920.68L764.94 920.12L766.95 919.56L768.96 919L770.96 918.45L772.97 917.91L774.98 917.37L776.99 916.83L779 916.3L781 915.77L783.01 915.24L785.02 914.72L787.02 914.21L789.03 913.7L791.04 913.19L793.05 912.68L795.05 912.18L797.06 911.68L799.07 911.19L801.08 910.7L803.09 910.22L805.09 909.73L807.1 909.26L809.11 908.78L811.12 908.31L813.12 907.84L815.13 907.38L817.14 906.92L819.15 906.46L821.15 906.01L823.16 905.56L825.17 905.12L827.17 904.67L829.18 904.23L831.19 903.8L833.2 903.37L835.2 902.94L837.21 902.51L839.22 902.09L841.23 901.67L843.24 901.25L845.24 900.84L847.25 900.43L849.26 900.02L851.26 899.62L853.27 899.22L855.28 898.82L857.29 898.43L859.3 898.04L861.3 897.65L863.31 897.26L865.32 896.88L867.33 896.5L869.33 896.12L871.34 895.75L873.35 895.38L875.35 895.01L877.36 894.64L879.37 894.28L881.38 893.92L883.38 893.56L885.39 893.21L887.4 892.86L889.41 892.51L891.42 892.16L893.42 891.82L895.43 891.48L897.44 891.14L899.45 890.8L901.45 890.47L903.46 890.14L905.47 889.81L907.48 889.49L909.48 889.16L911.49 888.84L913.5 888.52L915.5 888.21L917.51 887.9L919.52 887.58L921.53 887.28L923.53 886.97L925.54 886.67L927.55 886.36L929.56 886.06L931.57 885.77L933.57 885.47L935.58 885.18L937.59 884.89L939.6 884.6L941.6 884.32L943.61 884.03L945.62 883.75L947.62 883.47L949.63 883.2L951.64 882.92L953.65 882.65L955.65 882.38L957.66 882.11L959.67 881.84L961.68 881.58L963.68 881.32L965.69 881.06L967.7 880.8L969.71 880.54L971.72 880.29L973.72 880.03L975.73 879.78L977.74 879.54L979.75 879.29L981.75 879.04L983.76 878.8L985.77 878.56L987.77 878.32L989.78 878.08L991.79 877.85L993.8 877.62L995.8 877.38L997.81 877.16L999.82 876.93L1001.83 876.7L1003.83 876.48L1005.84 876.25L1007.85 876.03L1009.86 875.81L1011.87 875.6L1013.87 875.38L1015.88 875.17L1017.89 874.96L1019.9 874.74L1021.9 874.54L1023.91 874.33L1025.92 874.12L1027.92 873.92L1029.93 873.72L1031.94 873.52L1033.95 873.32L1035.95 873.12L1037.96 872.92L1039.97 872.73L1041.98 872.54L1043.98 872.35L1045.99 872.16L1048 871.97"/>
<path class="tk" d="M404 1397.5h2v20h-2zM404 824h2v20h-2zM565 1397.5h2v20h-2zM565 824h2v20h-2zM726 1397.5h2v20h-2zM726 824h2v20h-2zM886 1397.5h2v20h-2zM886 824h2v20h-2zM245 1298h20v2h-20zM1028 1298h20v2h-20zM245 1179h20v2h-20zM1028 1179h20v2h-20zM245 1060h20v2h-20zM1028 1060h20v2h-20zM245 942h20v2h-20zM1028 942h20v2h-20z"/>
<rect class="fr" x="245" y="824" width="803" height="593.5"/>
</g>
<text transform="translate(250.5 1476) scale(0.94 1)" text-anchor="middle">0</text>
<text transform="translate(411.1 1476) scale(0.94 1)" text-anchor="middle">2</text>
<text transform="translate(571.7 1476) scale(0.94 1)" text-anchor="middle">4</text>
<text transform="translate(732.3 1476) scale(0.94 1)" text-anchor="middle">6</text>
<text transform="translate(892.9 1476) scale(0.94 1)" text-anchor="middle">8</text>
<text transform="translate(1053.5 1476) scale(0.94 1)" text-anchor="middle">10</text>
<text transform="translate(217.6 1432) scale(0.94 1)" text-anchor="end">0</text>
<text transform="translate(217.6 1314) scale(0.94 1)" text-anchor="end">0.05</text>
<text transform="translate(217.6 1195) scale(0.94 1)" text-anchor="end">0.1</text>
<text transform="translate(217.6 1076) scale(0.94 1)" text-anchor="end">0.15</text>
<text transform="translate(217.6 958) scale(0.94 1)" text-anchor="end">0.2</text>
<text transform="translate(217.6 839) scale(0.94 1)" text-anchor="end">0.25</text>
<text class="k" transform="translate(649.1 1541.5) scale(1.08 1)" text-anchor="middle">κ</text>
<text transform="translate(49.5 1119.25) rotate(-90) scale(1 1)" text-anchor="middle"><tspan class="it">p</tspan><tspan class="sub" dx="-2.5" dy="13.56">3</tspan></text>
</g>
<g class="panel" id="panel4">
<g shape-rendering="crispEdges">
<path class="ol" d="M1372.63 1421.65L1383.06 1404.75L1393.49 1421.65ZM1388.69 1415.7L1399.12 1398.81L1409.55 1415.7ZM1404.75 1405.56L1415.18 1388.67L1425.61 1405.56ZM1420.81 1390.83L1431.24 1373.93L1441.67 1390.83ZM1436.87 1373.79L1447.3 1356.89L1457.73 1373.79ZM1452.93 1357.7L1463.36 1340.8L1473.79 1357.7ZM1468.99 1337.39L1479.42 1320.49L1489.85 1337.39ZM1485.05 1318.19L1495.48 1301.3L1505.91 1318.19ZM1501.11 1297.51L1511.54 1280.61L1521.97 1297.51ZM1517.17 1278.58L1527.6 1261.68L1538.03 1278.58ZM1533.23 1258.7L1543.66 1241.81L1554.09 1258.7ZM1549.29 1240.45L1559.72 1223.55L1570.15 1240.45ZM1565.35 1222.31L1575.78 1205.41L1586.21 1222.31ZM1581.41 1205.36L1591.84 1188.46L1602.27 1205.36ZM1597.47 1185.33L1607.9 1168.43L1618.33 1185.33ZM1613.53 1170.31L1623.96 1153.41L1634.39 1170.31ZM1629.59 1154.51L1640.02 1137.61L1650.45 1154.51ZM1645.65 1138.53L1656.08 1121.63L1666.51 1138.53ZM1661.71 1124.66L1672.14 1107.76L1682.57 1124.66ZM1677.77 1110.6L1688.2 1093.7L1698.63 1110.6ZM1693.83 1096.54L1704.26 1079.64L1714.69 1096.54ZM1709.89 1078.43L1720.32 1061.54L1730.75 1078.43ZM1725.95 1068.8L1736.38 1051.91L1746.81 1068.8ZM1742.01 1058.6L1752.44 1041.7L1762.87 1058.6ZM1758.07 1045.11L1768.5 1028.22L1778.93 1045.11ZM1774.13 1034.52L1784.56 1017.62L1794.99 1034.52ZM1790.19 1021.62L1800.62 1004.72L1811.05 1021.62ZM1806.25 1009.48L1816.68 992.58L1827.11 1009.48ZM1822.31 1001.39L1832.74 984.49L1843.17 1001.39ZM1838.37 988.68L1848.8 971.78L1859.23 988.68ZM1854.43 978.61L1864.86 961.71L1875.29 978.61ZM1870.49 971.42L1880.92 954.52L1891.35 971.42ZM1886.55 962.15L1896.98 945.26L1907.41 962.15ZM1902.61 955.76L1913.04 938.86L1923.47 955.76ZM1918.67 947.46L1929.1 930.56L1939.53 947.46ZM1934.73 937.55L1945.16 920.65L1955.59 937.55ZM1950.79 931.48L1961.22 914.58L1971.65 931.48ZM1966.85 923.49L1977.28 906.59L1987.71 923.49ZM1982.91 918.7L1993.34 901.8L2003.77 918.7ZM1998.97 911.51L2009.4 894.61L2019.83 911.51ZM2015.03 900.8L2025.46 883.91L2035.89 900.8ZM2031.09 897.13L2041.52 880.23L2051.95 897.13ZM2047.15 892.66L2057.58 875.76L2068.01 892.66ZM2063.21 883.55L2073.64 866.65L2084.07 883.55ZM2079.27 877.64L2089.7 860.74L2100.13 877.64ZM2095.33 872.05L2105.76 855.15L2116.19 872.05ZM2111.39 868.69L2121.82 851.79L2132.25 868.69ZM2127.45 859.58L2137.88 842.69L2148.31 859.58ZM2143.51 858.31L2153.94 841.41L2164.37 858.31ZM2159.57 853.99L2170 837.09L2180.43 853.99Z"/>
<path class="tri" d="M1372.63 1421.65L1383.06 1404.75L1393.49 1421.65ZM1388.69 1415.7L1399.12 1398.81L1409.55 1415.7ZM1404.75 1405.56L1415.18 1388.67L1425.61 1405.56ZM1420.81 1390.83L1431.24 1373.93L1441.67 1390.83ZM1436.87 1373.79L1447.3 1356.89L1457.73 1373.79ZM1452.93 1357.7L1463.36 1340.8L1473.79 1357.7ZM1468.99 1337.39L1479.42 1320.49L1489.85 1337.39ZM1485.05 1318.19L1495.48 1301.3L1505.91 1318.19ZM1501.11 1297.51L1511.54 1280.61L1521.97 1297.51ZM1517.17 1278.58L1527.6 1261.68L1538.03 1278.58ZM1533.23 1258.7L1543.66 1241.81L1554.09 1258.7ZM1549.29 1240.45L1559.72 1223.55L1570.15 1240.45ZM1565.35 1222.31L1575.78 1205.41L1586.21 1222.31ZM1581.41 1205.36L1591.84 1188.46L1602.27 1205.36ZM1597.47 1185.33L1607.9 1168.43L1618.33 1185.33ZM1613.53 1170.31L1623.96 1153.41L1634.39 1170.31ZM1629.59 1154.51L1640.02 1137.61L1650.45 1154.51ZM1645.65 1138.53L1656.08 1121.63L1666.51 1138.53ZM1661.71 1124.66L1672.14 1107.76L1682.57 1124.66ZM1677.77 1110.6L1688.2 1093.7L1698.63 1110.6ZM1693.83 1096.54L1704.26 1079.64L1714.69 1096.54ZM1709.89 1078.43L1720.32 1061.54L1730.75 1078.43ZM1725.95 1068.8L1736.38 1051.91L1746.81 1068.8ZM1742.01 1058.6L1752.44 1041.7L1762.87 1058.6ZM1758.07 1045.11L1768.5 1028.22L1778.93 1045.11ZM1774.13 1034.52L1784.56 1017.62L1794.99 1034.52ZM1790.19 1021.62L1800.62 1004.72L1811.05 1021.62ZM1806.25 1009.48L1816.68 992.58L1827.11 1009.48ZM1822.31 1001.39L1832.74 984.49L1843.17 1001.39ZM1838.37 988.68L1848.8 971.78L1859.23 988.68ZM1854.43 978.61L1864.86 961.71L1875.29 978.61ZM1870.49 971.42L1880.92 954.52L1891.35 971.42ZM1886.55 962.15L1896.98 945.26L1907.41 962.15ZM1902.61 955.76L1913.04 938.86L1923.47 955.76ZM1918.67 947.46L1929.1 930.56L1939.53 947.46ZM1934.73 937.55L1945.16 920.65L1955.59 937.55ZM1950.79 931.48L1961.22 914.58L1971.65 931.48ZM1966.85 923.49L1977.28 906.59L1987.71 923.49ZM1982.91 918.7L1993.34 901.8L2003.77 918.7ZM1998.97 911.51L2009.4 894.61L2019.83 911.51ZM2015.03 900.8L2025.46 883.91L2035.89 900.8ZM2031.09 897.13L2041.52 880.23L2051.95 897.13ZM2047.15 892.66L2057.58 875.76L2068.01 892.66ZM2063.21 883.55L2073.64 866.65L2084.07 883.55ZM2079.27 877.64L2089.7 860.74L2100.13 877.64ZM2095.33 872.05L2105.76 855.15L2116.19 872.05ZM2111.39 868.69L2121.82 851.79L2132.25 868.69ZM2127.45 859.58L2137.88 842.69L2148.31 859.58ZM2143.51 858.31L2153.94 841.41L2164.37 858.31ZM2159.57 853.99L2170 837.09L2180.43 853.99Z"/>
<path class="ol" d="M1372.61 1416.52a10.45 10.45 0 1 0 20.9 0a10.45 10.45 0 1 0 -20.9 0ZM1388.67 1412.47a10.45 10.45 0 1 0 20.9 0a10.45 10.45 0 1 0 -20.9 0ZM1404.73 1404.35a10.45 10.45 0 1 0 20.9 0a10.45 10.45 0 1 0 -20.9 0ZM1420.79 1394.21a10.45 10.45 0 1 0 20.9 0a10.45 10.45 0 1 0 -20.9 0ZM1436.85 1380.69a10.45 10.45 0 1 0 20.9 0a10.45 10.45 0 1 0 -20.9 0ZM1452.91 1366.5a10.45 10.45 0 1 0 20.9 0a10.45 10.45 0 1 0 -20.9 0ZM1468.97 1351.62a10.45 10.45 0 1 0 20.9 0a10.45 10.45 0 1 0 -20.9 0ZM1485.03 1335.4a10.45 10.45 0 1 0 20.9 0a10.45 10.45 0 1 0 -20.9 0ZM1501.09 1318.5a10.45 10.45 0 1 0 20.9 0a10.45 10.45 0 1 0 -20.9 0ZM1517.15 1302a10.45 10.45 0 1 0 20.9 0a10.45 10.45 0 1 0 -20.9 0ZM1533.21 1286.73a10.45 10.45 0 1 0 20.9 0a10.45 10.45 0 1 0 -20.9 0ZM1549.27 1271.18a10.45 10.45 0 1 0 20.9 0a10.45 10.45 0 1 0 -20.9 0ZM1565.33 1254.68a10.45 10.45 0 1 0 20.9 0a10.45 10.45 0 1 0 -20.9 0ZM1581.39 1240.49a10.45 10.45 0 1 0 20.9 0a10.45 10.45 0 1 0 -20.9 0ZM1597.45 1225.45a10.45 10.45 0 1 0 20.9 0a10.45 10.45 0 1 0 -20.9 0ZM1613.51 1210.05a10.45 10.45 0 1 0 20.9 0a10.45 10.45 0 1 0 -20.9 0ZM1629.57 1195.22a10.45 10.45 0 1 0 20.9 0a10.45 10.45 0 1 0 -20.9 0ZM1645.63 1180.19a10.45 10.45 0 1 0 20.9 0a10.45 10.45 0 1 0 -20.9 0ZM1661.69 1167.67a10.45 10.45 0 1 0 20.9 0a10.45 10.45 0 1 0 -20.9 0ZM1677.75 1155.15a10.45 10.45 0 1 0 20.9 0a10.45 10.45 0 1 0 -20.9 0ZM1693.81 1142.63a10.45 10.45 0 1 0 20.9 0a10.45 10.45 0 1 0 -20.9 0ZM1709.87 1129.73a10.45 10.45 0 1 0 20.9 0a10.45 10.45 0 1 0 -20.9 0ZM1725.93 1117.6a10.45 10.45 0 1 0 20.9 0a10.45 10.45 0 1 0 -20.9 0ZM1741.99 1106.62a10.45 10.45 0 1 0 20.9 0a10.45 10.45 0 1 0 -20.9 0ZM1758.05 1094.48a10.45 10.45 0 1 0 20.9 0a10.45 10.45 0 1 0 -20.9 0ZM1774.11 1084.85a10.45 10.45 0 1 0 20.9 0a10.45 10.45 0 1 0 -20.9 0ZM1790.17 1074.26a10.45 10.45 0 1 0 20.9 0a10.45 10.45 0 1 0 -20.9 0ZM1806.23 1061.74a10.45 10.45 0 1 0 20.9 0a10.45 10.45 0 1 0 -20.9 0ZM1822.29 1053.08a10.45 10.45 0 1 0 20.9 0a10.45 10.45 0 1 0 -20.9 0ZM1838.35 1043.44a10.45 10.45 0 1 0 20.9 0a10.45 10.45 0 1 0 -20.9 0ZM1854.41 1034.99a10.45 10.45 0 1 0 20.9 0a10.45 10.45 0 1 0 -20.9 0ZM1870.47 1025.09a10.45 10.45 0 1 0 20.9 0a10.45 10.45 0 1 0 -20.9 0ZM1886.53 1018.7a10.45 10.45 0 1 0 20.9 0a10.45 10.45 0 1 0 -20.9 0ZM1902.59 1008.63a10.45 10.45 0 1 0 20.9 0a10.45 10.45 0 1 0 -20.9 0ZM1918.65 999.84a10.45 10.45 0 1 0 20.9 0a10.45 10.45 0 1 0 -20.9 0ZM1934.71 993.77a10.45 10.45 0 1 0 20.9 0a10.45 10.45 0 1 0 -20.9 0ZM1950.77 985.79a10.45 10.45 0 1 0 20.9 0a10.45 10.45 0 1 0 -20.9 0ZM1966.83 977.8a10.45 10.45 0 1 0 20.9 0a10.45 10.45 0 1 0 -20.9 0ZM1982.89 970.77a10.45 10.45 0 1 0 20.9 0a10.45 10.45 0 1 0 -20.9 0ZM1998.95 963.9a10.45 10.45 0 1 0 20.9 0a10.45 10.45 0 1 0 -20.9 0ZM2015.01 957.03a10.45 10.45 0 1 0 20.9 0a10.45 10.45 0 1 0 -20.9 0ZM2031.07 950a10.45 10.45 0 1 0 20.9 0a10.45 10.45 0 1 0 -20.9 0ZM2047.13 943.93a10.45 10.45 0 1 0 20.9 0a10.45 10.45 0 1 0 -20.9 0ZM2063.19 935.94a10.45 10.45 0 1 0 20.9 0a10.45 10.45 0 1 0 -20.9 0ZM2079.25 931.94a10.45 10.45 0 1 0 20.9 0a10.45 10.45 0 1 0 -20.9 0ZM2095.31 923.96a10.45 10.45 0 1 0 20.9 0a10.45 10.45 0 1 0 -20.9 0ZM2111.37 919.96a10.45 10.45 0 1 0 20.9 0a10.45 10.45 0 1 0 -20.9 0ZM2127.43 912.77a10.45 10.45 0 1 0 20.9 0a10.45 10.45 0 1 0 -20.9 0ZM2143.49 907.5a10.45 10.45 0 1 0 20.9 0a10.45 10.45 0 1 0 -20.9 0ZM2159.55 902.39a10.45 10.45 0 1 0 20.9 0a10.45 10.45 0 1 0 -20.9 0Z"/>
<path class="cir" d="M1372.61 1416.52a10.45 10.45 0 1 0 20.9 0a10.45 10.45 0 1 0 -20.9 0ZM1388.67 1412.47a10.45 10.45 0 1 0 20.9 0a10.45 10.45 0 1 0 -20.9 0ZM1404.73 1404.35a10.45 10.45 0 1 0 20.9 0a10.45 10.45 0 1 0 -20.9 0ZM1420.79 1394.21a10.45 10.45 0 1 0 20.9 0a10.45 10.45 0 1 0 -20.9 0ZM1436.85 1380.69a10.45 10.45 0 1 0 20.9 0a10.45 10.45 0 1 0 -20.9 0ZM1452.91 1366.5a10.45 10.45 0 1 0 20.9 0a10.45 10.45 0 1 0 -20.9 0ZM1468.97 1351.62a10.45 10.45 0 1 0 20.9 0a10.45 10.45 0 1 0 -20.9 0ZM1485.03 1335.4a10.45 10.45 0 1 0 20.9 0a10.45 10.45 0 1 0 -20.9 0ZM1501.09 1318.5a10.45 10.45 0 1 0 20.9 0a10.45 10.45 0 1 0 -20.9 0ZM1517.15 1302a10.45 10.45 0 1 0 20.9 0a10.45 10.45 0 1 0 -20.9 0ZM1533.21 1286.73a10.45 10.45 0 1 0 20.9 0a10.45 10.45 0 1 0 -20.9 0ZM1549.27 1271.18a10.45 10.45 0 1 0 20.9 0a10.45 10.45 0 1 0 -20.9 0ZM1565.33 1254.68a10.45 10.45 0 1 0 20.9 0a10.45 10.45 0 1 0 -20.9 0ZM1581.39 1240.49a10.45 10.45 0 1 0 20.9 0a10.45 10.45 0 1 0 -20.9 0ZM1597.45 1225.45a10.45 10.45 0 1 0 20.9 0a10.45 10.45 0 1 0 -20.9 0ZM1613.51 1210.05a10.45 10.45 0 1 0 20.9 0a10.45 10.45 0 1 0 -20.9 0ZM1629.57 1195.22a10.45 10.45 0 1 0 20.9 0a10.45 10.45 0 1 0 -20.9 0ZM1645.63 1180.19a10.45 10.45 0 1 0 20.9 0a10.45 10.45 0 1 0 -20.9 0ZM1661.69 1167.67a10.45 10.45 0 1 0 20.9 0a10.45 10.45 0 1 0 -20.9 0ZM1677.75 1155.15a10.45 10.45 0 1 0 20.9 0a10.45 10.45 0 1 0 -20.9 0ZM1693.81 1142.63a10.45 10.45 0 1 0 20.9 0a10.45 10.45 0 1 0 -20.9 0ZM1709.87 1129.73a10.45 10.45 0 1 0 20.9 0a10.45 10.45 0 1 0 -20.9 0ZM1725.93 1117.6a10.45 10.45 0 1 0 20.9 0a10.45 10.45 0 1 0 -20.9 0ZM1741.99 1106.62a10.45 10.45 0 1 0 20.9 0a10.45 10.45 0 1 0 -20.9 0ZM1758.05 1094.48a10.45 10.45 0 1 0 20.9 0a10.45 10.45 0 1 0 -20.9 0ZM1774.11 1084.85a10.45 10.45 0 1 0 20.9 0a10.45 10.45 0 1 0 -20.9 0ZM1790.17 1074.26a10.45 10.45 0 1 0 20.9 0a10.45 10.45 0 1 0 -20.9 0ZM1806.23 1061.74a10.45 10.45 0 1 0 20.9 0a10.45 10.45 0 1 0 -20.9 0ZM1822.29 1053.08a10.45 10.45 0 1 0 20.9 0a10.45 10.45 0 1 0 -20.9 0ZM1838.35 1043.44a10.45 10.45 0 1 0 20.9 0a10.45 10.45 0 1 0 -20.9 0ZM1854.41 1034.99a10.45 10.45 0 1 0 20.9 0a10.45 10.45 0 1 0 -20.9 0ZM1870.47 1025.09a10.45 10.45 0 1 0 20.9 0a10.45 10.45 0 1 0 -20.9 0ZM1886.53 1018.7a10.45 10.45 0 1 0 20.9 0a10.45 10.45 0 1 0 -20.9 0ZM1902.59 1008.63a10.45 10.45 0 1 0 20.9 0a10.45 10.45 0 1 0 -20.9 0ZM1918.65 999.84a10.45 10.45 0 1 0 20.9 0a10.45 10.45 0 1 0 -20.9 0ZM1934.71 993.77a10.45 10.45 0 1 0 20.9 0a10.45 10.45 0 1 0 -20.9 0ZM1950.77 985.79a10.45 10.45 0 1 0 20.9 0a10.45 10.45 0 1 0 -20.9 0ZM1966.83 977.8a10.45 10.45 0 1 0 20.9 0a10.45 10.45 0 1 0 -20.9 0ZM1982.89 970.77a10.45 10.45 0 1 0 20.9 0a10.45 10.45 0 1 0 -20.9 0ZM1998.95 963.9a10.45 10.45 0 1 0 20.9 0a10.45 10.45 0 1 0 -20.9 0ZM2015.01 957.03a10.45 10.45 0 1 0 20.9 0a10.45 10.45 0 1 0 -20.9 0ZM2031.07 950a10.45 10.45 0 1 0 20.9 0a10.45 10.45 0 1 0 -20.9 0ZM2047.13 943.93a10.45 10.45 0 1 0 20.9 0a10.45 10.45 0 1 0 -20.9 0ZM2063.19 935.94a10.45 10.45 0 1 0 20.9 0a10.45 10.45 0 1 0 -20.9 0ZM2079.25 931.94a10.45 10.45 0 1 0 20.9 0a10.45 10.45 0 1 0 -20.9 0ZM2095.31 923.96a10.45 10.45 0 1 0 20.9 0a10.45 10.45 0 1 0 -20.9 0ZM2111.37 919.96a10.45 10.45 0 1 0 20.9 0a10.45 10.45 0 1 0 -20.9 0ZM2127.43 912.77a10.45 10.45 0 1 0 20.9 0a10.45 10.45 0 1 0 -20.9 0ZM2143.49 907.5a10.45 10.45 0 1 0 20.9 0a10.45 10.45 0 1 0 -20.9 0ZM2159.55 902.39a10.45 10.45 0 1 0 20.9 0a10.45 10.45 0 1 0 -20.9 0Z"/>
<path class="ln" d="M1367 1417.5L1369.01 1417.5L1371.02 1417.48L1373.02 1417.44L1375.03 1417.37L1377.04 1417.26L1379.05 1417.11L1381.05 1416.9L1383.06 1416.65L1385.07 1416.33L1387.08 1415.97L1389.08 1415.54L1391.09 1415.06L1393.1 1414.52L1395.11 1413.92L1397.11 1413.26L1399.12 1412.55L1401.13 1411.78L1403.13 1410.95L1405.14 1410.08L1407.15 1409.15L1409.16 1408.16L1411.16 1407.13L1413.17 1406.05L1415.18 1404.93L1417.19 1403.76L1419.19 1402.55L1421.2 1401.29L1423.21 1400L1425.22 1398.66L1427.22 1397.29L1429.23 1395.88L1431.24 1394.44L1433.25 1392.96L1435.26 1391.46L1437.26 1389.92L1439.27 1388.35L1441.28 1386.76L1443.29 1385.14L1445.29 1383.49L1447.3 1381.82L1449.31 1380.13L1451.32 1378.41L1453.32 1376.68L1455.33 1374.92L1457.34 1373.15L1459.35 1371.36L1461.35 1369.55L1463.36 1367.72L1465.37 1365.88L1467.38 1364.03L1469.38 1362.16L1471.39 1360.28L1473.4 1358.39L1475.4 1356.49L1477.41 1354.57L1479.42 1352.65L1481.43 1350.71L1483.43 1348.77L1485.44 1346.82L1487.45 1344.87L1489.46 1342.9L1491.46 1340.93L1493.47 1338.96L1495.48 1336.98L1497.49 1334.99L1499.49 1333L1501.5 1331.01L1503.51 1329.01L1505.52 1327.01L1507.53 1325.01L1509.53 1323.01L1511.54 1321L1513.55 1318.99L1515.56 1316.98L1517.56 1314.97L1519.57 1312.96L1521.58 1310.95L1523.59 1308.94L1525.59 1306.94L1527.6 1304.93L1529.61 1302.92L1531.62 1300.91L1533.62 1298.91L1535.63 1296.9L1537.64 1294.9L1539.64 1292.9L1541.65 1290.9L1543.66 1288.91L1545.67 1286.92L1547.67 1284.93L1549.68 1282.94L1551.69 1280.96L1553.7 1278.98L1555.7 1277L1557.71 1275.03L1559.72 1273.06L1561.73 1271.1L1563.74 1269.14L1565.74 1267.18L1567.75 1265.23L1569.76 1263.28L1571.76 1261.33L1573.77 1259.4L1575.78 1257.46L1577.79 1255.53L1579.8 1253.61L1581.8 1251.69L1583.81 1249.77L1585.82 1247.87L1587.83 1245.96L1589.83 1244.06L1591.84 1242.17L1593.85 1240.28L1595.86 1238.4L1597.86 1236.52L1599.87 1234.65L1601.88 1232.78L1603.88 1230.92L1605.89 1229.07L1607.9 1227.22L1609.91 1225.38L1611.91 1223.54L1613.92 1221.71L1615.93 1219.89L1617.94 1218.07L1619.94 1216.25L1621.95 1214.44L1623.96 1212.64L1625.97 1210.85L1627.97 1209.06L1629.98 1207.28L1631.99 1205.5L1634 1203.73L1636.01 1201.96L1638.01 1200.2L1640.02 1198.45L1642.03 1196.71L1644.04 1194.97L1646.04 1193.23L1648.05 1191.5L1650.06 1189.78L1652.07 1188.07L1654.07 1186.36L1656.08 1184.65L1658.09 1182.96L1660.1 1181.27L1662.1 1179.58L1664.11 1177.9L1666.12 1176.23L1668.12 1174.57L1670.13 1172.91L1672.14 1171.25L1674.15 1169.6L1676.15 1167.96L1678.16 1166.33L1680.17 1164.7L1682.18 1163.08L1684.18 1161.46L1686.19 1159.85L1688.2 1158.25L1690.21 1156.65L1692.21 1155.05L1694.22 1153.47L1696.23 1151.89L1698.24 1150.31L1700.24 1148.75L1702.25 1147.18L1704.26 1145.63L1706.27 1144.08L1708.28 1142.53L1710.28 1141L1712.29 1139.46L1714.3 1137.94L1716.3 1136.42L1718.31 1134.9L1720.32 1133.4L1722.33 1131.89L1724.34 1130.4L1726.34 1128.91L1728.35 1127.42L1730.36 1125.94L1732.37 1124.47L1734.37 1123L1736.38 1121.54L1738.39 1120.08L1740.39 1118.63L1742.4 1117.18L1744.41 1115.75L1746.42 1114.31L1748.42 1112.88L1750.43 1111.46L1752.44 1110.04L1754.45 1108.63L1756.45 1107.23L1758.46 1105.83L1760.47 1104.43L1762.48 1103.04L1764.49 1101.66L1766.49 1100.28L1768.5 1098.91L1770.51 1097.54L1772.51 1096.18L1774.52 1094.82L1776.53 1093.47L1778.54 1092.12L1780.55 1090.78L1782.55 1089.44L1784.56 1088.11L1786.57 1086.79L1788.58 1085.47L1790.58 1084.15L1792.59 1082.84L1794.6 1081.54L1796.61 1080.24L1798.61 1078.94L1800.62 1077.65L1802.63 1076.37L1804.63 1075.09L1806.64 1073.81L1808.65 1072.54L1810.66 1071.28L1812.66 1070.02L1814.67 1068.76L1816.68 1067.51L1818.69 1066.27L1820.7 1065.03L1822.7 1063.79L1824.71 1062.56L1826.72 1061.33L1828.72 1060.11L1830.73 1058.9L1832.74 1057.68L1834.75 1056.48L1836.75 1055.28L1838.76 1054.08L1840.77 1052.88L1842.78 1051.7L1844.79 1050.51L1846.79 1049.33L1848.8 1048.16L1850.81 1046.99L1852.82 1045.82L1854.82 1044.66L1856.83 1043.5L1858.84 1042.35L1860.85 1041.2L1862.85 1040.06L1864.86 1038.92L1866.87 1037.79L1868.88 1036.65L1870.88 1035.53L1872.89 1034.41L1874.9 1033.29L1876.9 1032.18L1878.91 1031.07L1880.92 1029.96L1882.93 1028.86L1884.93 1027.76L1886.94 1026.67L1888.95 1025.58L1890.96 1024.5L1892.96 1023.42L1894.97 1022.34L1896.98 1021.27L1898.99 1020.21L1901 1019.14L1903 1018.08L1905.01 1017.03L1907.02 1015.97L1909.03 1014.93L1911.03 1013.88L1913.04 1012.84L1915.05 1011.81L1917.05 1010.78L1919.06 1009.75L1921.07 1008.72L1923.08 1007.7L1925.09 1006.69L1927.09 1005.67L1929.1 1004.66L1931.11 1003.66L1933.12 1002.66L1935.12 1001.66L1937.13 1000.66L1939.14 999.67L1941.14 998.69L1943.15 997.7L1945.16 996.72L1947.17 995.75L1949.17 994.78L1951.18 993.81L1953.19 992.84L1955.2 991.88L1957.2 990.92L1959.21 989.97L1961.22 989.02L1963.23 988.07L1965.24 987.13L1967.24 986.19L1969.25 985.25L1971.26 984.31L1973.26 983.38L1975.27 982.46L1977.28 981.53L1979.29 980.61L1981.3 979.7L1983.3 978.78L1985.31 977.87L1987.32 976.97L1989.33 976.06L1991.33 975.16L1993.34 974.27L1995.35 973.37L1997.36 972.48L1999.36 971.59L2001.37 970.71L2003.38 969.83L2005.38 968.95L2007.39 968.08L2009.4 967.2L2011.41 966.34L2013.41 965.47L2015.42 964.61L2017.43 963.75L2019.44 962.89L2021.45 962.04L2023.45 961.19L2025.46 960.34L2027.47 959.5L2029.47 958.66L2031.48 957.82L2033.49 956.99L2035.5 956.15L2037.5 955.33L2039.51 954.5L2041.52 953.68L2043.53 952.86L2045.53 952.04L2047.54 951.22L2049.55 950.41L2051.56 949.6L2053.57 948.8L2055.57 948L2057.58 947.2L2059.59 946.4L2061.6 945.6L2063.6 944.81L2065.61 944.02L2067.62 943.24L2069.62 942.45L2071.63 941.67L2073.64 940.89L2075.65 940.12L2077.65 939.34L2079.66 938.57L2081.67 937.81L2083.68 937.04L2085.68 936.28L2087.69 935.52L2089.7 934.76L2091.71 934.01L2093.72 933.26L2095.72 932.51L2097.73 931.76L2099.74 931.02L2101.74 930.28L2103.75 929.54L2105.76 928.8L2107.77 928.07L2109.78 927.34L2111.78 926.61L2113.79 925.88L2115.8 925.16L2117.8 924.44L2119.81 923.72L2121.82 923L2123.83 922.29L2125.84 921.58L2127.84 920.87L2129.85 920.16L2131.86 919.46L2133.86 918.75L2135.87 918.05L2137.88 917.36L2139.89 916.66L2141.89 915.97L2143.9 915.28L2145.91 914.59L2147.92 913.9L2149.93 913.22L2151.93 912.54L2153.94 911.86L2155.95 911.19L2157.95 910.51L2159.96 909.84L2161.97 909.17L2163.98 908.5L2165.98 907.84L2167.99 907.17L2170 906.51"/>
<path class="tk" d="M1526 1397.5h2v20h-2zM1526 824h2v20h-2zM1687 1397.5h2v20h-2zM1687 824h2v20h-2zM1848 1397.5h2v20h-2zM1848 824h2v20h-2zM2009 1397.5h2v20h-2zM2009 824h2v20h-2zM1367 1268h20v2h-20zM2150 1268h20v2h-20zM1367 1120h20v2h-20zM2150 1120h20v2h-20zM1367 971h20v2h-20zM2150 971h20v2h-20z"/>
<rect class="fr" x="1367" y="824" width="803" height="593.5"/>
</g>
<text transform="translate(1372.5 1476) scale(0.94 1)" text-anchor="middle">0</text>
<text transform="translate(1533.1 1476) scale(0.94 1)" text-anchor="middle">2</text>
<text transform="translate(1693.7 1476) scale(0.94 1)" text-anchor="middle">4</text>
<text transform="translate(1854.3 1476) scale(0.94 1)" text-anchor="middle">6</text>
<text transform="translate(2014.9 1476) scale(0.94 1)" text-anchor="middle">8</text>
<text transform="translate(2175.5 1476) scale(0.94 1)" text-anchor="middle">10</text>
<text transform="translate(1339.6 1432) scale(0.94 1)" text-anchor="end">0</text>
<text transform="translate(1339.6 1284) scale(0.94 1)" text-anchor="end">0.04</text>
<text transform="translate(1339.6 1136) scale(0.94 1)" text-anchor="end">0.08</text>
<text transform="translate(1339.6 987) scale(0.94 1)" text-anchor="end">0.12</text>
<text transform="translate(1339.6 839) scale(0.94 1)" text-anchor="end">0.16</text>
<text class="k" transform="translate(1771.1 1541.5) scale(1.08 1)" text-anchor="middle">κ</text>
<text transform="translate(1171.5 1119.25) rotate(-90) scale(1 1)" text-anchor="middle"><tspan class="it">p</tspan><tspan class="sub" dx="-2.5" dy="13.56">4</tspan></text>
</g>
<g id="legend">
<text transform="translate(844.9 94) scale(0.95 1)" text-anchor="end"><tspan class="it">N</tspan> = 10</text>
<text transform="translate(844.9 138) scale(0.95 1)" text-anchor="end"><tspan class="it">N</tspan> = 100</text>
<g shape-rendering="crispEdges">
<path class="tri" d="M922.8 85.15L933.5 67.82L944.2 85.15Z"/>
<path class="cir" d="M922.8 123.4a10.7 10.7 0 1 0 21.4 0a10.7 10.7 0 1 0 -21.4 0Z"/>
</g></g>
</svg>
</body></html>
